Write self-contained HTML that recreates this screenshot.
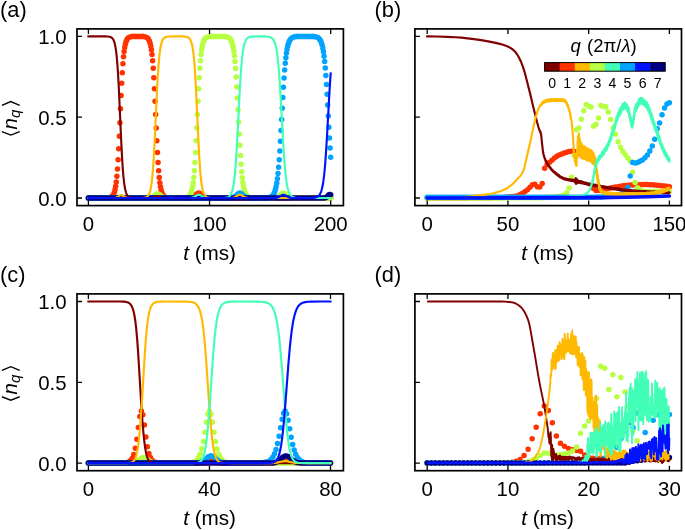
<!DOCTYPE html>
<html><head><meta charset="utf-8"><title>figure</title>
<style>html,body{margin:0;padding:0;background:#fff}svg{display:block}text{font-family:"Liberation Sans",sans-serif;fill:#000}</style>
</head><body>
<svg style="will-change:transform" width="685" height="530" viewBox="0 0 685 530">
<rect width="685" height="530" fill="#fff"/>
<clipPath id="ca"><rect x="77" y="28.9" width="266.4" height="176.7"/></clipPath>
<g clip-path="url(#ca)">
<path d="M88.4 198H105.36M105.97 197.95H106.57M107.18 197.9h0M107.78 197.86h0M108.39 197.8h0M109 197.72h0M109.6 197.6h0M110.21 197.44h0M110.81 197.21h0M111.42 196.88h0M112.02 196.42h0M112.63 195.78h0M113.24 194.89h0M113.84 193.64h0M114.45 191.92h0M115.05 189.54h0M115.66 186.31h0M116.26 181.98h0M116.87 176.27h0M117.48 168.93h0M118.08 159.79h0M118.69 148.85h0M119.29 136.33h0M119.9 122.76h0M120.5 108.87h0M121.11 95.46h0M121.72 83.23h0M122.32 72.63h0M122.93 63.86h0M123.53 56.86h0M124.14 51.45h0M124.75 47.36h0M125.35 44.32h0M125.96 42.09h0M126.56 40.47h0M127.17 39.31h0M127.77 38.47h0M128.38 37.87h0M128.99 37.45h0M129.59 37.14h0M130.2 36.93h0M130.8 36.77h0M131.41 36.66h0M132.01 36.59h0M132.62 36.53H133.23M133.83 36.47H135.04M135.65 36.43H141.1M141.71 36.47H142.31M142.92 36.54h0M143.52 36.59h0M144.13 36.67h0M144.73 36.77h0M145.34 36.92h0M145.95 37.13h0M146.55 37.41h0M147.16 37.81h0M147.76 38.36h0M148.37 39.12h0M148.98 40.17h0M149.58 41.62h0M150.19 43.59h0M150.79 46.26h0M151.4 49.84h0M152 54.56h0M152.61 60.67h0M153.22 68.37h0M153.82 77.78h0M154.43 88.83h0M155.03 101.25h0M155.64 114.51h0M156.24 127.91h0M156.85 140.74h0M157.46 152.39h0M158.06 162.48h0M158.67 170.85h0M159.27 177.58h0M159.88 182.82h0M160.48 186.83h0M161.09 189.83h0M161.7 192.06h0M162.3 193.7h0M162.91 194.9h0M163.51 195.76h0M164.12 196.39h0M164.72 196.84h0M165.33 197.17h0M165.94 197.4h0M166.54 197.57h0M167.15 197.69h0M167.75 197.78h0M168.36 197.84h0M168.96 197.89H169.57M170.18 197.94H171.99M172.6 197.98H189.56M190.17 197.9h0M190.77 197.83h0M191.38 197.73h0M191.98 197.57h0M192.59 197.34h0M193.19 197.04h0M193.8 196.65h0M194.41 196.18h0M195.01 195.64h0M195.62 195.06h0M196.22 194.48h0M196.83 193.95h0M197.44 193.52h0M198.04 193.25h0M198.65 193.15h0M199.25 193.25h0M199.86 193.52h0M200.46 193.95h0M201.07 194.48h0M201.68 195.06h0M202.28 195.64h0M202.89 196.18h0M203.49 196.65h0M204.1 197.04h0M204.7 197.34h0M205.31 197.57h0M205.92 197.73h0M206.52 197.83h0M207.13 197.9h0M207.73 197.95H208.94M209.55 197.99H330.7" fill="none" stroke="#ff3200" stroke-width="5.5" stroke-linecap="round"/>
<path d="M88.4 198H147.76M148.37 197.96H148.98M149.58 197.86h0M150.19 197.77h0M150.79 197.64h0M151.4 197.45h0M152 197.2h0M152.61 196.88h0M153.22 196.48h0M153.82 196.03h0M154.43 195.55h0M155.03 195.07h0M155.64 194.63h0M156.24 194.27h0M156.85 194.04h0M157.46 193.96h0M158.06 194.04h0M158.67 194.27h0M159.27 194.63h0M159.88 195.07h0M160.48 195.55h0M161.09 196.03h0M161.7 196.48h0M162.3 196.88h0M162.91 197.2h0M163.51 197.45h0M164.12 197.64h0M164.72 197.77h0M165.33 197.86h0M165.94 197.92H166.54M167.15 197.98H182.9M183.5 197.92H184.11M184.71 197.84h0M185.32 197.78h0M185.93 197.69h0M186.53 197.57h0M187.14 197.4h0M187.74 197.17h0M188.35 196.84h0M188.95 196.39h0M189.56 195.76h0M190.17 194.9h0M190.77 193.7h0M191.38 192.06h0M191.98 189.83h0M192.59 186.83h0M193.19 182.82h0M193.8 177.58h0M194.41 170.85h0M195.01 162.48h0M195.62 152.39h0M196.22 140.74h0M196.83 127.91h0M197.44 114.51h0M198.04 101.25h0M198.65 88.83h0M199.25 77.78h0M199.86 68.37h0M200.46 60.67h0M201.07 54.56h0M201.68 49.84h0M202.28 46.26h0M202.89 43.59h0M203.49 41.62h0M204.1 40.17h0M204.7 39.12h0M205.31 38.36h0M205.92 37.81h0M206.52 37.41h0M207.13 37.13h0M207.73 36.92h0M208.34 36.77h0M208.94 36.67h0M209.55 36.59h0M210.16 36.54H210.76M211.37 36.47H212.58M213.18 36.43H222.27M222.88 36.47H223.48M224.09 36.53h0M224.69 36.57h0M225.3 36.63h0M225.91 36.71h0M226.51 36.82h0M227.12 36.97h0M227.72 37.18h0M228.33 37.45h0M228.93 37.82h0M229.54 38.31h0M230.15 38.98h0M230.75 39.87h0M231.36 41.07h0M231.96 42.66h0M232.57 44.76h0M233.17 47.51h0M233.78 51.08h0M234.39 55.66h0M234.99 61.43h0M235.6 68.52h0M236.2 77.03h0M236.81 86.92h0M237.41 97.99h0M238.02 109.87h0M238.63 122.09h0M239.23 134.09h0M239.84 145.35h0M240.44 155.5h0M241.05 164.29h0M241.65 171.67h0M242.26 177.68h0M242.87 182.49h0M243.47 186.25h0M244.08 189.15h0M244.68 191.37h0M245.29 193.05h0M245.9 194.31h0M246.5 195.26h0M247.11 195.97h0M247.71 196.49h0M248.32 196.89h0M248.92 197.18h0M249.53 197.39h0M250.14 197.55h0M250.74 197.67h0M251.35 197.75h0M251.95 197.82h0M252.56 197.87H253.16M253.77 197.93H254.98M255.59 197.97H274.37M274.97 197.9h0M275.58 197.83h0M276.18 197.73h0M276.79 197.57h0M277.39 197.34h0M278 197.04h0M278.61 196.65h0M279.21 196.18h0M279.82 195.64h0M280.42 195.06h0M281.03 194.48h0M281.63 193.95h0M282.24 193.52h0M282.85 193.25h0M283.45 193.15h0M284.06 193.25h0M284.66 193.52h0M285.27 193.95h0M285.87 194.48h0M286.48 195.06h0M287.09 195.64h0M287.69 196.18h0M288.3 196.65h0M288.9 197.04h0M289.51 197.34h0M290.11 197.57h0M290.72 197.73h0M291.33 197.83h0M291.93 197.9h0M292.54 197.95H293.75M294.36 197.99H330.7" fill="none" stroke="#b6ff41" stroke-width="5.5" stroke-linecap="round"/>
<path d="M88.4 198H230.15M230.75 197.95h0M231.36 197.9h0M231.96 197.83h0M232.57 197.73h0M233.17 197.57h0M233.78 197.34h0M234.39 197.04h0M234.99 196.65h0M235.6 196.18h0M236.2 195.64h0M236.81 195.06h0M237.41 194.48h0M238.02 193.95h0M238.63 193.52h0M239.23 193.25h0M239.84 193.15h0M240.44 193.25h0M241.05 193.52h0M241.65 193.95h0M242.26 194.48h0M242.87 195.06h0M243.47 195.64h0M244.08 196.18h0M244.68 196.65h0M245.29 197.04h0M245.9 197.34h0M246.5 197.57h0M247.11 197.73h0M247.71 197.83h0M248.32 197.9h0M248.92 197.95H250.14M250.74 197.99H263.46M264.07 197.95H265.28M265.88 197.89H266.49M267.1 197.81h0M267.7 197.74h0M268.31 197.66h0M268.91 197.55h0M269.52 197.41h0M270.12 197.22h0M270.73 196.98h0M271.34 196.65h0M271.94 196.22h0M272.55 195.66h0M273.15 194.93h0M273.76 193.97h0M274.37 192.72h0M274.97 191.11h0M275.58 189.02h0M276.18 186.36h0M276.79 182.97h0M277.39 178.74h0M278 173.5h0M278.61 167.16h0M279.21 159.63h0M279.82 150.92h0M280.42 141.15h0M281.03 130.54h0M281.63 119.44h0M282.24 108.26h0M282.85 97.41h0M283.45 87.27h0M284.06 78.12h0M284.66 70.11h0M285.27 63.3h0M285.87 57.63h0M286.48 53.01h0M287.09 49.3h0M287.69 46.37h0M288.3 44.06h0M288.9 42.27h0M289.51 40.89h0M290.11 39.82h0M290.72 39.01h0M291.33 38.38h0M291.93 37.91h0M292.54 37.54h0M293.14 37.27h0M293.75 37.06h0M294.36 36.9h0M294.96 36.78h0M295.57 36.69h0M296.17 36.62h0M296.78 36.56H297.38M297.99 36.49H298.6M299.2 36.45H302.23M302.84 36.41H310.71M311.32 36.47H311.92M312.53 36.51H313.13M313.74 36.6h0M314.34 36.66h0M314.95 36.75h0M315.56 36.86h0M316.16 37.01h0M316.77 37.2h0M317.37 37.45h0M317.98 37.79h0M318.59 38.22h0M319.19 38.8h0M319.8 39.55h0M320.4 40.54h0M321.01 41.82h0M321.61 43.48h0M322.22 45.62h0M322.83 48.35h0M323.43 51.81h0M324.04 56.14h0M324.64 61.48h0M325.25 67.94h0M325.85 75.59h0M326.46 84.41h0M327.07 94.28h0M327.67 104.95h0M328.28 116.08h0M328.88 127.25h0M329.49 138.04h0M330.09 148.09h0M330.7 157.14h0" fill="none" stroke="#00a4ff" stroke-width="5.5" stroke-linecap="round"/>
<path d="M88.4 198H324.04M324.64 197.9h0M325.25 197.79h0M325.85 197.58h0M326.46 197.23h0M327.07 196.73h0M327.67 196.11h0M328.28 195.44h0M328.88 194.86h0M329.49 194.51H330.09M330.7 194.77h0" fill="none" stroke="#000080" stroke-width="5.5" stroke-linecap="round"/>
<path d="M88.4 36.4 105.36 36.44 107.78 36.54 109 36.68 110.21 36.96 110.81 37.19 111.42 37.52 112.02 37.98 112.63 38.62 113.24 39.51 113.84 40.76 114.45 42.48 115.05 44.86 115.66 48.09 116.26 52.42 116.87 58.13 117.48 65.47 118.08 74.61 118.69 85.55 119.9 111.64 121.11 138.94 121.72 151.17 122.32 161.77 122.93 170.54 123.53 177.54 124.14 182.95 124.75 187.04 125.35 190.08 125.96 192.31 126.56 193.93 127.17 195.09 127.77 195.93 128.38 196.53 128.99 196.95 129.59 197.26 130.8 197.63 132.62 197.87 136.25 197.98 150.19 197.98 152 197.85 153.22 197.58 154.43 197.11 156.24 196.29 156.85 196.12 157.46 196.06 158.06 196.12 158.67 196.29 161.09 197.37 162.3 197.74 163.51 197.91 165.94 198 330.7 198" fill="none" stroke="#800000" stroke-width="2.15" stroke-linejoin="round" stroke-linecap="square"/>
<path d="M88.4 198 113.84 197.97 115.05 197.87 116.26 197.61 116.87 197.37 117.48 197.06 119.9 195.43 120.5 195.18 121.11 195.09 121.72 195.18 122.32 195.43 123.53 196.24 124.75 197.06 125.35 197.37 125.96 197.61 127.17 197.87 128.99 197.99 140.49 197.96 142.92 197.86 144.73 197.63 145.95 197.27 146.55 196.99 147.16 196.59 147.76 196.04 148.37 195.28 148.98 194.23 149.58 192.78 150.19 190.81 150.79 188.14 151.4 184.56 152 179.84 152.61 173.73 153.22 166.03 153.82 156.62 154.43 145.57 156.85 93.66 157.46 82.01 158.06 71.92 158.67 63.55 159.27 56.82 159.88 51.58 160.48 47.57 161.09 44.57 161.7 42.34 162.3 40.7 162.91 39.5 163.51 38.64 164.12 38.01 164.72 37.56 165.33 37.23 165.94 37 167.15 36.71 168.96 36.51 173.21 36.41 182.29 36.44 184.71 36.56 185.93 36.71 187.14 37 187.74 37.23 188.35 37.56 188.95 38.01 189.56 38.64 190.17 39.5 190.77 40.7 191.38 42.34 191.98 44.57 192.59 47.57 193.19 51.58 193.8 56.82 194.41 63.55 195.01 71.92 195.62 82.01 196.83 106.49 198.65 145.57 199.25 156.62 199.86 166.03 200.46 173.73 201.07 179.84 201.68 184.56 202.28 188.14 202.89 190.81 203.49 192.78 204.1 194.23 204.7 195.28 205.31 196.04 205.92 196.59 206.52 196.99 207.13 197.27 208.34 197.63 210.16 197.86 213.79 197.98 230.15 197.98 231.96 197.89 233.17 197.71 234.39 197.36 235.6 196.79 238.02 195.3 238.63 195.02 239.23 194.83 239.84 194.77 240.44 194.83 241.05 195.02 241.65 195.3 244.08 196.79 245.29 197.36 246.5 197.71 247.71 197.89 250.14 197.99 330.7 198" fill="none" stroke="#ffb900" stroke-width="2.15" stroke-linejoin="round" stroke-linecap="square"/>
<path d="M88.4 198 188.95 197.98 190.77 197.89 191.98 197.71 193.19 197.36 194.41 196.79 196.83 195.3 197.44 195.02 198.04 194.83 198.65 194.77 199.25 194.83 199.86 195.02 200.46 195.3 202.89 196.79 204.1 197.36 205.31 197.71 206.52 197.89 208.94 197.99 221.67 197.96 224.69 197.83 226.51 197.58 227.72 197.22 228.33 196.95 228.93 196.58 229.54 196.09 230.15 195.42 230.75 194.53 231.36 193.33 231.96 191.74 232.57 189.64 233.17 186.89 233.78 183.32 234.39 178.74 234.99 172.97 235.6 165.88 236.2 157.37 236.81 147.48 238.02 124.53 239.84 89.05 240.44 78.9 241.05 70.11 241.65 62.73 242.26 56.72 242.87 51.91 243.47 48.15 244.08 45.25 244.68 43.03 245.29 41.35 245.9 40.09 246.5 39.14 247.11 38.43 247.71 37.91 248.32 37.51 248.92 37.22 250.14 36.85 251.95 36.58 254.98 36.44 263.46 36.44 266.49 36.55 268.31 36.74 269.52 36.99 270.73 37.42 271.34 37.75 271.94 38.18 272.55 38.74 273.15 39.47 273.76 40.43 274.37 41.68 274.97 43.29 275.58 45.38 276.18 48.04 276.79 51.43 277.39 55.66 278 60.9 278.61 67.24 279.21 74.77 279.82 83.48 281.03 103.86 282.85 136.99 283.45 147.13 284.06 156.28 284.66 164.29 285.27 171.1 285.87 176.77 286.48 181.39 287.09 185.1 287.69 188.03 288.3 190.34 288.9 192.13 289.51 193.51 290.11 194.58 290.72 195.39 291.33 196.02 291.93 196.49 292.54 196.86 293.14 197.13 294.36 197.5 296.17 197.78 299.2 197.95 313.13 198 330.7 198" fill="none" stroke="#41ffb6" stroke-width="2.15" stroke-linejoin="round" stroke-linecap="square"/>
<path d="M88.4 198 273.76 197.98 275.58 197.89 276.79 197.71 278 197.36 279.21 196.79 281.63 195.3 282.24 195.02 282.85 194.83 283.45 194.77 284.06 194.83 284.66 195.02 285.27 195.3 287.69 196.79 288.9 197.36 290.11 197.71 291.33 197.89 293.75 197.99 310.1 197.96 313.13 197.83 314.95 197.6 316.16 197.31 316.77 197.09 317.37 196.81 317.98 196.43 318.59 195.93 319.19 195.28 319.8 194.43 320.4 193.31 321.01 191.87 321.61 190 322.22 187.61 322.83 184.56 323.43 180.72 324.04 175.94 324.64 170.09 325.25 163.09 325.85 154.89 327.07 135.29 329.49 91.62 330.09 82.01 330.7 73.49" fill="none" stroke="#0012ff" stroke-width="2.15" stroke-linejoin="round" stroke-linecap="square"/>
</g>
<path d="M88.4 205.6v-5.0M88.4 28.9v5.0M209.55 205.6v-5.0M209.55 28.9v5.0M330.7 205.6v-5.0M330.7 28.9v5.0M77 198h5.0M77 117.2h5.0M77 36.4h5.0" stroke="#000" stroke-width="1.3" fill="none"/>
<rect x="77" y="28.9" width="266.4" height="176.7" fill="none" stroke="#000" stroke-width="1.7"/>
<text x="88.4" y="230.6" text-anchor="middle" font-size="20.4">0</text>
<text x="209.55" y="230.6" text-anchor="middle" font-size="20.4">100</text>
<text x="330.7" y="230.6" text-anchor="middle" font-size="20.4">200</text>
<text x="66.6" y="205.6" text-anchor="end" font-size="20.4">0.0</text>
<text x="66.6" y="124.8" text-anchor="end" font-size="20.4">0.5</text>
<text x="66.6" y="44" text-anchor="end" font-size="20.4">1.0</text>
<g transform="translate(17 118.35) rotate(-90)"><path d="M-13.35 -15.1L-16.75 -6.2L-13.35 2.7M12.95 -15.1L16.75 -6.2L12.95 2.7" fill="none" stroke="#000" stroke-width="1.4"/><text x="-11.2" y="0" font-size="20.4" font-style="italic">n</text><text x="0.3" y="3.1" font-size="15" font-style="italic">q</text></g>
<text x="209.6" y="260" text-anchor="middle" font-size="20.7"><tspan font-style="italic">t</tspan> (ms)</text>
<text x="0.1" y="16.9" font-size="21.8">(a)</text>
<clipPath id="cb"><rect x="414.9" y="28.9" width="266.6" height="176.7"/></clipPath>
<g clip-path="url(#cb)">
<path d="M427.2 198h0M429.65 198h0M432.09 198h0M434.54 198h0M436.99 197.99h0M439.43 197.99h0M441.88 197.98h0M444.33 197.98h0M446.77 197.97h0M449.22 197.96h0M451.66 197.96h0M454.11 197.95h0M456.56 197.93h0M459 197.92h0M461.45 197.91h0M463.9 197.89h0M466.34 197.88h0M468.79 197.86h0M471.24 197.84h0M473.68 197.82h0M476.13 197.8h0M478.58 197.78h0M481.02 197.75h0M483.47 197.73h0M485.92 197.7h0M488.36 197.67h0M490.81 197.64h0M493.25 197.61h0M495.7 197.58h0M498.15 197.54h0M500.59 197.5h0M503.04 197.42h0M505.49 197.28h0M507.93 197.08h0M510.38 196.83h0M512.83 196.53h0M515.27 196.18h0M517.72 195.63h0M520.17 194.57h0M522.61 193.14h0M525.06 191.49h0M527.51 189.78h0M529.95 187.23h0M532.4 184.66h0M534.84 184.22h0M537.29 186.71h0M539.74 186.91h0M542.18 183.52h0M544.63 168.16h0M547.08 164.25h0M549.52 162.36h0M551.97 160.2h0M554.42 158.07h0M556.86 156.33h0M559.31 155.04h0M561.76 153.97h0M564.2 153.08h0M566.65 152.31h0M569.09 151.57h0M571.54 151.15h0M573.99 151.48h0M576.43 152.41h0M578.88 153.27h0M581.33 154.16h0M583.77 155.15h0M586.22 156.3h0M588.67 157.6h0M591.11 159.06h0M593.56 188.38h0M596.01 190.6h0M598.45 190.6h0M600.9 190.09h0M603.35 189.44h0M605.79 188.92h0M608.24 188.43h0M610.68 187.95h0M613.13 187.48h0M615.58 187.04h0M618.02 186.64h0M620.47 186.26h0M622.92 185.87h0M625.36 185.52h0M627.81 185.25h0M630.26 185.07h0M632.7 184.95h0M635.15 184.84h0M637.6 184.75h0M640.04 184.68h0M642.49 184.62h0M644.94 184.59h0M647.38 184.59h0M649.83 184.68h0M652.27 184.84h0M654.72 185.05h0M657.17 185.3h0M659.61 185.55h0M662.06 185.79h0M664.51 186.06h0M666.95 186.36h0M669.4 186.69h0" fill="none" stroke="#ff3200" stroke-width="5.5" stroke-linecap="round"/>
<path d="M427.2 198h0M429.65 198h0M432.09 198h0M434.54 198h0M436.99 198h0M439.43 198h0M441.88 198h0M444.33 198h0M446.77 197.99h0M449.22 197.99h0M451.66 197.99h0M454.11 197.99h0M456.56 197.99h0M459 197.98h0M461.45 197.98h0M463.9 197.98h0M466.34 197.97h0M468.79 197.97h0M471.24 197.96h0M473.68 197.96h0M476.13 197.95h0M478.58 197.95h0M481.02 197.94h0M483.47 197.94h0M485.92 197.93h0M488.36 197.92h0M490.81 197.92h0M493.25 197.91h0M495.7 197.9h0M498.15 197.89h0M500.59 197.89h0M503.04 197.88h0M505.49 197.87h0M507.93 197.86h0M510.38 197.85h0M512.83 197.83h0M515.27 197.82h0M517.72 197.81h0M520.17 197.8h0M522.61 197.79h0M525.06 197.77h0M527.51 197.76h0M529.95 197.74h0M532.4 197.73h0M534.84 197.71h0M537.29 197.7h0M539.74 197.68h0M542.18 197.65h0M544.63 197.59h0M547.08 197.49h0M549.52 197.35h0M551.97 197.17h0M554.42 196.94h0M556.86 196.67h0M559.31 196.35h0M561.76 195.95h0M564.2 194.94h0M566.65 193.05h0M569.09 187.88h0M571.54 177.24h0M573.99 155.59h0M576.43 129.83h0M578.88 127.92h0M581.33 119.31h0M583.77 110.76h0M586.22 104.55h0M588.67 106.03h0M591.11 106.9h0M593.56 126.15h0M596.01 124.19h0M598.45 117.93h0M600.9 105.62h0M603.35 106.43h0M605.79 106.77h0M608.24 112.03h0M610.68 119.59h0M613.13 127.78h0M615.58 134.31h0M618.02 141.74h0M620.47 147.3h0M622.92 151.4h0M625.36 154.87h0M627.81 158.08h0M630.26 160.91h0M632.7 171.93h0M635.15 182.49h0M637.6 187.85h0M640.04 189.93h0M642.49 191.06h0M644.94 191.53h0M647.38 191.54h0M649.83 191.54h0M652.27 191.54h0M654.72 191.54h0M657.17 191.54h0M659.61 191.54h0M662.06 191.54h0M664.51 191.54h0M666.95 191.54h0M669.4 191.54h0" fill="none" stroke="#b6ff41" stroke-width="5.5" stroke-linecap="round"/>
<path d="M427.2 197.35h0M429.65 197.35h0M432.09 197.35h0M434.54 197.35h0M436.99 197.35h0M439.43 197.35h0M441.88 197.35h0M444.33 197.35h0M446.77 197.35h0M449.22 197.35h0M451.66 197.35h0M454.11 197.35h0M456.56 197.35h0M459 197.35h0M461.45 197.35h0M463.9 197.35h0M466.34 197.35h0M468.79 197.35h0M471.24 197.35h0M473.68 197.35h0M476.13 197.34h0M478.58 197.34h0M481.02 197.34h0M483.47 197.34h0M485.92 197.34h0M488.36 197.34h0M490.81 197.34h0M493.25 197.34h0M495.7 197.33h0M498.15 197.33h0M500.59 197.33h0M503.04 197.33h0M505.49 197.33h0M507.93 197.32h0M510.38 197.32h0M512.83 197.32h0M515.27 197.32h0M517.72 197.32h0M520.17 197.31h0M522.61 197.31h0M525.06 197.31h0M527.51 197.3h0M529.95 197.3h0M532.4 197.3h0M534.84 197.3h0M537.29 197.29h0M539.74 197.29h0M542.18 197.28h0M544.63 197.28h0M547.08 197.28h0M549.52 197.27h0M551.97 197.27h0M554.42 197.27h0M556.86 197.26h0M559.31 197.26h0M561.76 197.25h0M564.2 197.25h0M566.65 197.24h0M569.09 197.24h0M571.54 197.23h0M573.99 197.23h0M576.43 197.22h0M578.88 197.22h0M581.33 197.21h0M583.77 197.2h0M586.22 197.2h0M588.67 197.19h0M591.11 197.17h0M593.56 197.14h0M596.01 197.07h0M598.45 196.99h0M600.9 196.89h0M603.35 196.76h0M605.79 196.61h0M608.24 196.44h0M610.68 196.25h0M613.13 196.04h0M615.58 195.66h0M618.02 195.02h0M620.47 194.13h0M622.92 192.97h0M625.36 191.03h0M627.81 187.39h0M630.26 176.05h0M632.7 162.61h0M635.15 162.91h0M637.6 162.51h0M640.04 161.34h0M642.49 159.89h0M644.94 157.79h0M647.38 155.01h0M649.83 151.1h0M652.27 146.08h0M654.72 139.16h0M657.17 128.85h0M659.61 123.1h0M662.06 114.78h0M664.51 107.95h0M666.95 104.11h0M669.4 102.66h0" fill="none" stroke="#00a4ff" stroke-width="5.5" stroke-linecap="round"/>
<path d="M427.2 36.4 436.11 36.53 447.22 36.86 455.17 37.25 461.3 37.68 469.83 38.59 475.83 39.34 482.55 40.34 488.23 41.34 494.31 42.59 498.89 43.65 502.25 44.56 505.16 45.51 507.8 46.53 509.29 47.22 510.78 48.08 512.26 49.13 513.81 50.41 514.91 51.47 515.88 52.63 517.04 54.3 518.4 56.57 519.95 59.47 520.98 61.73 522.21 64.85 523.63 68.95 524.53 71.83 525.76 76.48 529.7 91.87 533.77 108.97 537.19 122.58 538.42 126.96 539.32 129.81 539.39 129.78 539.45 130.26 539.52 130.4 539.58 130.38 539.71 130.89 539.77 130.65 539.84 131.11 539.9 131.1 539.97 131.61 540.03 131.09 540.1 131.87 540.16 131.74 540.23 131.39 540.29 131.43 540.42 131.77 540.49 132.57 540.55 132.96 540.61 132.63 540.68 133.28 540.74 132.36 540.81 133.76 540.87 133.58 541 134.59 541.07 134.36 541.13 135.35 541.2 134.79 541.32 136.6 541.39 136.6 541.52 138.56 541.58 138.56 541.71 140.21 541.78 141.23 541.84 141.19 541.91 141.78 542.04 144.12 542.1 143.67 542.23 145.53 542.29 145.61 542.36 146.47 542.42 146.2 542.55 148.19 542.62 148.91 542.68 149.05 542.75 148.73 542.81 150.23 542.87 150.42 542.94 150.25 543 151.97 543.07 152.06 543.13 151.82 543.2 153.19 543.26 152.52 543.33 153.02 543.39 154.27 543.46 154.03 543.52 154.38 543.59 154.48 543.65 155.22 543.71 155.36 543.78 155.79 543.84 155.95 543.91 156.33 543.97 155.61 544.04 155.85 544.1 156.74 544.17 156.52 544.3 157.46 544.36 157.57 544.42 156.97 544.49 157.97 544.55 157.85 544.62 157.56 544.68 158.58 544.75 158.1 544.81 159.17 544.88 158.54 545.01 158.74 545.07 158.72 545.14 159.22 545.2 159.03 545.26 160.09 545.33 159.92 545.46 160.78 545.59 160.24 545.65 160.31 545.72 161.43 545.78 160.37 545.85 161.4 545.91 161.47 545.97 160.9 546.04 160.94 546.1 161.27 546.17 161.92 546.23 161.87 546.3 161.51 546.36 162.24 546.43 161.78 546.49 161.93 546.56 162.44 546.62 162 546.69 162.78 546.75 162.42 546.81 162.67 546.88 163.18 546.94 163.02 547.01 163.04 547.07 163.23 547.14 163.89 547.2 162.86 547.27 162.99 547.33 164.3 547.4 163.23 547.52 164.5 547.59 163.71 547.65 164.31 547.72 164.05 547.78 164.01 547.91 165.22 547.98 164.32 548.04 164.59 548.11 164.41 548.17 165.34 548.24 164.77 548.3 164.76 548.36 165.53 548.43 165.55 548.49 165.75 548.56 166.27 548.62 166.07 548.69 166.04 548.75 166.42 548.82 165.67 548.88 166.2 548.95 166.11 549.01 166.57 549.08 166.56 549.14 166.14 549.2 166.6 549.27 166.53 549.33 166.84 549.4 166.76 549.46 166.41 549.53 167.31 549.66 166.94 549.72 167.8 549.79 166.76 549.91 167.85 549.98 167.27 550.04 167.28 550.11 167.61 550.17 167.32 550.24 168.47 550.3 167.99 550.43 167.64 550.5 168.08 550.56 168.21 550.63 168.57 550.69 168.41 550.75 168.51 550.82 168.13 550.95 168.5 551.01 168.34 551.08 169.52 551.14 168.69 551.21 169.16 551.27 168.86 551.34 169.52 551.4 169.38 551.46 168.99 551.53 170.08 551.66 169.64 551.72 169.24 551.79 170.06 551.85 169.42 551.92 170.23 551.98 170.23 552.05 169.97 552.11 169.91 552.18 169.69 552.24 169.76 552.3 170.64 552.37 170.06 552.5 170.66 552.56 170.22 552.63 170.13 552.69 170.73 552.76 170.23 552.82 171.32 552.89 171.33 552.95 170.62 553.01 171.27 553.08 170.98 553.14 171.15 553.21 171.67 553.27 170.94 553.34 171.02 553.4 171.85 553.47 171.76 553.53 171.12 553.6 171.04 553.66 171.15 553.73 171.68 553.79 171.92 553.85 171.87 553.92 172.28 553.98 171.92 554.05 172.32 554.11 172.47 554.18 172.24 554.24 172.7 554.31 172.23 554.37 172 554.44 172.11 554.5 171.75 554.56 171.92 554.63 172.3 554.69 172.01 554.76 172.65 554.82 172.24 554.89 172.96 554.95 172.7 555.02 172.17 555.08 172.72 555.15 172.89 555.21 172.58 555.28 173.25 555.34 172.63 555.4 173.74 555.47 173.5 555.53 173.64 555.6 173.59 555.66 172.75 555.73 173.99 555.86 173.39 555.92 173.27 555.99 173.23 556.05 173.79 556.11 174.05 556.18 173.29 556.24 174.28 556.31 174.41 556.44 173.96 556.5 173.43 556.63 174.02 556.7 174.13 556.76 173.96 556.83 174.09 556.95 174.88 557.02 174.8 557.08 174.09 557.15 174.33 557.21 174.17 557.28 175.2 557.34 174.14 557.41 174.86 557.47 174.21 557.54 174.68 557.6 174.79 557.67 174.49 557.73 174.79 557.79 174.78 557.86 175.49 557.92 174.96 558.05 175.74 558.12 175.72 558.18 175.32 558.25 175.64 558.31 175.04 558.38 175.92 558.44 176.11 558.5 174.88 558.57 175.81 558.63 175.61 558.7 176.04 558.76 176.09 558.83 175.88 558.89 175.43 558.96 176.44 559.02 175.46 559.09 175.3 559.15 175.91 559.28 176.42 559.34 176.53 559.41 176.39 559.47 175.75 559.54 176.89 559.6 175.92 559.67 176.12 559.73 177 559.8 176.98 559.86 176.16 559.93 176.28 559.99 176.79 560.05 176.12 560.12 177.01 560.18 176.77 560.25 177.21 560.31 176.57 560.38 177.33 560.44 177.25 560.51 176.53 560.57 176.92 560.64 176.75 560.7 176.7 560.77 176.9 560.83 177.47 560.89 176.86 560.96 177.65 561.09 177.3 561.15 177.77 561.22 177.82 561.28 177.15 561.35 177.07 561.41 177.59 561.48 177.6 561.54 177.87 561.6 177.5 561.67 177.46 561.73 177.04 561.8 178.23 561.86 177.14 561.93 177.07 561.99 177.94 562.06 177.48 562.12 177.39 562.19 177.65 562.25 178.15 562.38 177.45 562.44 178.48 562.51 178.03 562.57 178.66 562.64 177.62 562.7 177.74 562.77 178.72 562.83 177.85 562.9 177.95 562.96 178.71 563.03 178.22 563.09 178.04 563.15 178.53 563.22 178.34 563.28 177.76 563.35 178.22 563.41 178.43 563.48 179.02 563.54 178.97 563.61 178.06 563.67 178.22 563.74 178.13 563.8 178.49 563.87 178.52 563.93 178.6 563.99 178.36 564.06 178.91 564.12 178.72 564.19 178.78 564.25 178.56 564.32 179.16 564.38 179.43 564.51 179.27 564.58 178.42 564.64 178.62 564.71 178.6 564.83 179.48 564.96 178.54 565.03 179.01 565.09 178.88 565.22 179.54 565.29 178.94 565.48 179.47 565.54 178.92 565.61 179.43 565.67 179.11 565.74 179.54 565.8 178.92 565.87 179.42 565.93 179.3 566 178.74 566.06 179.03 566.13 179.02 566.19 179.55 566.26 178.92 566.32 179.52 566.38 178.76 566.45 178.89 566.51 179.21 566.58 179.01 566.64 179.39 566.71 179.16 566.77 179.96 566.84 178.86 566.9 179.12 566.97 179.99 567.03 179.87 567.16 179.23 567.22 180.03 567.29 179 567.35 179.81 567.42 178.98 567.55 179.67 567.61 179.84 567.68 180.19 567.74 180.22 567.81 179.53 567.93 179.2 568 179.91 568.06 179.18 568.13 180.02 568.19 179.2 568.26 179.24 568.32 180.24 568.39 179.34 568.45 179.56 568.52 179.57 568.58 179.4 568.64 179.81 568.71 179.86 568.77 180.05 568.84 179.42 568.9 179.38 568.97 180.35 569.03 179.57 569.1 180.23 569.16 180.36 569.23 180.35 569.29 179.87 569.36 180.26 569.42 180.32 569.48 180.52 569.55 180.24 569.61 179.67 569.68 180.65 569.74 180.06 569.81 179.92 569.87 180.65 569.94 180.34 570 179.56 570.07 179.45 570.13 179.65 570.19 180.54 570.26 179.78 570.39 180.57 570.52 179.62 570.58 179.69 570.71 180.76 570.78 179.69 570.84 179.58 570.97 180.59 571.03 180.19 571.1 180 571.23 180.46 571.29 180.61 571.36 180.55 571.42 180.88 571.49 180.63 571.55 179.73 571.62 180.97 571.68 180.05 571.74 179.98 571.81 180.48 571.87 180.25 571.94 180.74 572 180.17 572.13 180.1 572.2 180.43 572.26 179.82 572.33 179.96 572.39 180.35 572.46 180.22 572.52 180.76 572.58 179.9 572.65 180.3 572.71 179.99 572.78 180.78 572.84 179.89 572.91 181.04 572.97 180.5 573.04 181.05 573.1 180.96 573.17 180.23 573.23 181.14 573.3 180.74 573.36 181 573.42 180.16 573.49 181.16 573.55 180.84 573.62 180.18 573.68 180.41 573.75 180.4 573.81 180.04 573.88 181.3 573.94 180.48 574.01 180.39 574.07 180.39 574.13 180.45 574.2 181.3 574.26 181.31 574.33 180.37 574.39 180.6 574.52 181.69 574.59 180.74 574.65 181.72 574.72 180.23 574.78 181.26 574.85 179.97 574.91 182.12 574.97 180.9 575.04 182.34 575.1 179.82 575.23 182.09 575.3 178.79 575.43 181.8 575.49 179.08 575.56 181.66 575.62 178.46 575.68 182.22 575.75 178.09 575.81 183.76 575.88 179.58 575.94 182.41 576.07 180.22 576.14 184.04 576.2 182.9 576.27 183.66 576.33 179.65 576.4 182.89 576.46 181.19 576.52 182.21 576.59 182.74 576.65 178.78 576.72 181.2 576.78 180.46 576.85 180.23 576.91 179.72 576.98 182.41 577.04 183.2 577.11 181.47 577.17 182.68 577.23 183.2 577.3 179.85 577.49 182.53 577.56 180.68 577.69 182.3 577.75 180.31 577.88 180.58 577.95 180.84 578.07 181.95 578.14 181.28 578.2 182.26 578.27 181.38 578.33 182.46 578.4 182.57 578.46 181.23 578.53 181.97 578.59 181.3 578.72 181.06 578.78 181.5 578.85 181.08 578.91 181.45 578.98 180.95 579.04 181.03 579.11 182.68 579.24 182.05 579.37 182.49 579.43 181.17 579.5 182.81 579.56 182.53 579.62 181.44 579.69 182.48 579.75 182.43 579.82 181.09 580.01 182.73 580.08 182.49 580.14 181.15 580.21 181.53 580.27 182.92 580.33 181.72 580.4 182.37 580.46 181.73 580.53 182.55 580.66 183.11 580.72 182.6 580.79 181.55 580.85 181.51 580.92 181.92 580.98 181.82 581.05 182.87 581.11 182.59 581.17 181.58 581.24 181.44 581.3 182.47 581.37 181.87 581.43 181.59 581.5 181.49 581.56 182.82 581.63 182.16 581.69 182.67 581.76 182.55 581.82 182.57 581.95 183.43 582.01 182.06 582.08 182.2 582.14 181.95 582.21 183.25 582.27 183.11 582.4 181.84 582.53 183.24 582.66 181.87 582.72 182.06 582.79 182.02 582.85 182.94 582.92 183.23 582.98 182.12 583.05 182.29 583.11 182.19 583.18 183.06 583.24 183.27 583.31 183.37 583.37 182.23 583.44 182.15 583.5 183.18 583.56 182.27 583.63 183.19 583.76 182.89 583.82 183.54 583.89 183.47 584.02 183.51 584.08 183.06 584.15 183.84 584.21 182.62 584.27 183.74 584.4 182.92 584.47 183.85 584.6 183.11 584.66 183.15 584.73 182.55 584.79 182.76 584.86 183.98 584.92 182.71 584.99 183.24 585.05 183.02 585.11 183.97 585.24 183.03 585.31 182.87 585.37 182.87 585.44 183.95 585.5 182.86 585.57 183.35 585.7 182.88 585.76 183.69 585.82 182.79 585.95 183.02 586.02 183.8 586.08 183.55 586.15 184.2 586.21 183.17 586.28 182.95 586.34 184.27 586.41 183.25 586.47 183.35 586.54 184.54 586.6 182.99 586.66 183.78 586.79 184.61 586.86 183.29 586.92 184.1 586.99 183.8 587.05 184.38 587.12 183.67 587.18 184.05 587.25 183.35 587.31 183.61 587.37 183.53 587.44 184.37 587.5 184.72 587.57 183.29 587.63 183.21 587.7 183.74 587.76 183.27 587.83 183.66 587.96 184.2 588.02 184.32 588.09 184.1 588.15 184.59 588.21 184.24 588.28 184.12 588.34 184.96 588.41 184.34 588.47 184.55 588.54 183.95 588.6 183.66 588.67 184.02 588.73 183.94 588.8 184.05 588.86 184.68 588.93 184.49 588.99 183.69 589.05 183.53 589.12 184.87 589.18 185.18 589.25 183.54 589.31 183.73 589.38 184.18 589.44 183.84 589.51 184.24 589.57 183.71 589.64 184.87 589.76 184.16 589.83 184.96 589.89 184.11 589.96 184.9 590.02 184.14 590.09 184 590.15 184.66 590.22 183.7 590.28 184.33 590.35 184.13 590.41 185.41 590.48 185.26 590.54 184.25 590.6 183.87 590.67 184.42 590.73 183.95 590.8 185.42 590.86 184.01 590.93 184.05 591.06 184.84 591.12 184.38 591.19 185.18 591.25 184.47 591.31 184.44 591.44 185.21 591.51 185.66 591.57 185.34 591.64 184.27 591.7 185.34 591.77 185.59 591.9 184.86 591.96 184.76 592.03 184.28 592.09 184.33 592.15 184.15 592.22 184.31 592.35 185.59 592.41 184.22 592.48 185.46 592.54 184.81 592.61 185.43 592.67 184.51 592.74 185.56 592.8 185.2 592.86 185.56 592.93 184.49 592.99 184.91 593.06 184.9 593.12 185.45 593.19 185.69 593.25 184.56 593.32 184.73 593.38 184.79 593.45 184.37 593.58 185.76 593.64 185.05 593.7 185.6 593.77 185.24 593.83 185.34 593.9 185.18 593.96 184.6 594.03 184.8 594.09 185.47 594.16 184.81 594.22 184.75 594.29 184.91 594.35 185.29 594.41 184.73 594.54 186.07 594.61 185.8 594.67 185.18 594.74 185.65 594.8 185.59 594.87 185.64 594.93 186 595.06 186.26 595.13 185.24 595.19 185.83 595.25 185.62 595.32 184.85 595.38 185.37 595.45 185.08 595.51 185.17 595.58 184.87 595.64 186.34 595.77 184.91 595.84 185.72 595.9 184.94 595.96 186.2 596.03 186.42 596.09 185.06 596.16 185.87 596.22 185.72 596.29 185.04 596.35 186.22 596.42 185.01 596.48 185.95 596.55 186.21 596.61 186.24 596.68 185.79 596.74 185.89 596.8 185.22 596.87 186.59 596.93 186.61 597 186.44 597.06 185.72 597.13 185.45 597.19 185.95 597.26 185.74 597.32 185.71 597.39 186.73 597.45 186.37 597.52 185.17 597.58 186.26 597.64 185.28 597.77 186.47 597.84 186.84 597.9 186.5 598.03 186.17 598.1 186.17 598.16 186.02 598.23 186.15 598.29 186.87 598.35 186.5 598.42 185.4 598.48 186.91 598.55 185.79 598.61 186.22 598.68 185.86 598.74 186.47 598.81 186.42 598.87 186.2 598.94 185.58 599 186.52 599.07 186.92 599.13 187.01 599.19 185.67 599.26 186.59 599.32 186.91 599.39 186.16 599.45 185.78 599.58 186.91 599.65 186.51 599.78 187.15 599.84 185.66 599.97 187 600.03 185.82 600.1 185.68 600.16 185.95 600.23 186.86 600.29 186.97 600.36 186.45 600.42 186.37 600.49 185.91 600.55 185.79 600.62 185.89 600.68 186.79 600.74 186.42 600.81 187.16 600.87 186.55 600.94 187.27 601 187.21 601.07 187.21 601.13 186.94 601.2 186.93 601.26 186.32 601.33 187.32 601.39 187.28 601.45 186.44 601.65 186.37 601.78 186.65 601.84 186.37 601.91 187.41 601.97 187.22 602.04 186.4 602.1 187.27 602.17 186.75 602.23 187.19 602.29 186.93 602.36 186.31 602.55 187.22 602.62 186.4 602.75 186.99 602.81 186.34 602.88 186.62 602.94 186.19 603 186.69 603.07 186.33 603.13 186.89 603.26 186.46 603.33 187.63 603.39 187.05 603.46 186.86 603.52 187.71 603.59 186.59 603.65 186.72 603.72 186.39 603.78 187.27 603.84 187.13 603.91 186.46 603.97 187.24 604.04 186.6 604.1 187.25 604.3 187.6 604.36 187.27 604.43 187.7 604.49 186.69 604.55 186.47 604.62 187.83 604.75 187.99 604.81 186.58 604.88 187.9 604.94 186.99 605.01 187.57 605.07 187.74 605.14 187.68 605.2 187.01 605.27 188.05 605.33 186.77 605.46 187.75 605.52 187.8 605.59 187.13 605.65 187.18 605.72 187.66 605.78 187.65 605.85 187.46 605.91 186.79 605.98 187.37 606.04 186.92 606.11 187.23 606.23 187.48 606.3 187.2 606.36 187.5 606.43 187.16 606.49 187.99 606.56 187.79 606.62 186.96 606.69 187.7 606.75 187.03 606.82 186.9 606.94 188.18 607.01 187.2 607.07 187.35 607.14 187.92 607.2 187.07 607.33 188.3 607.4 188.3 607.46 188.07 607.59 187.2 607.66 188.29 607.72 188.41 607.78 187.52 607.85 187.85 607.91 187.81 607.98 187.26 608.04 187.12 608.11 187.06 608.17 187.35 608.24 188.52 608.3 188.31 608.43 187.12 608.49 188.44 608.56 187.8 608.62 187.99 608.69 187.98 608.75 188.2 608.82 188.2 608.88 188.26 608.95 188.47 609.01 187.81 609.08 187.98 609.14 187.59 609.21 187.71 609.27 187.26 609.33 188.18 609.4 187.38 609.46 188.13 609.53 187.73 609.59 187.53 609.66 188.14 609.72 188.08 609.79 187.81 609.85 188.59 609.92 187.98 609.98 188.64 610.04 188.45 610.17 187.37 610.24 187.34 610.3 188.44 610.37 188.62 610.43 188.08 610.56 188.3 610.63 187.74 610.69 187.84 610.76 188.06 610.82 187.99 610.88 188.05 610.95 187.92 611.01 187.56 611.14 187.51 611.21 187.69 611.27 188.81 611.4 187.84 611.47 188.56 611.53 188.11 611.59 188.93 611.72 188.45 611.79 188.94 611.85 188.43 611.92 188.72 611.98 187.81 612.05 188.61 612.11 188.53 612.18 187.93 612.24 188.29 612.31 189.05 612.37 188.81 612.43 188.25 612.5 188.86 612.56 188.79 612.63 188.26 612.76 188.79 612.82 188.38 612.89 188.28 612.95 189.16 613.02 188.82 613.08 188.78 613.15 187.97 613.21 189.18 613.27 188.76 613.34 188.99 613.4 188.27 613.47 188.11 613.53 189.22 613.6 188.06 613.66 188.31 613.73 189.01 613.79 188.01 613.86 188.92 613.92 188.21 613.98 189.26 614.05 188.72 614.11 188.65 614.18 188.1 614.24 188.19 614.37 189.35 614.44 188.81 614.5 188.9 614.57 188.02 614.7 188.89 614.76 188.95 614.82 188.38 614.89 189.36 614.95 188.33 615.08 188.9 615.15 188.51 615.28 189.35 615.34 188.96 615.41 189.5 615.47 189.46 615.6 188.42 615.66 189.32 615.79 188.23 615.86 188.45 615.92 188.36 615.99 188.69 616.05 188.82 616.18 188.83 616.44 189.63 616.57 188.64 616.7 189.53 616.76 188.61 616.83 189.72 616.89 188.46 616.96 188.87 617.08 189.23 617.15 188.65 617.21 189.82 617.28 189.82 617.34 189.11 617.41 189.44 617.54 189.12 617.6 189.83 617.67 188.5 617.8 189.78 617.86 188.88 617.92 189.18 617.99 188.97 618.05 188.91 618.12 188.56 618.18 189.8 618.25 188.57 618.38 189.71 618.44 189.48 618.51 189.5 618.57 188.76 618.7 189.95 618.76 189.04 618.83 189.36 618.89 188.92 618.96 190.01 619.02 188.87 619.09 188.84 619.15 190.1 619.22 189.44 619.28 189.95 619.35 189.39 619.41 190.02 619.47 188.9 619.54 189.9 619.6 189.23 619.67 189.26 619.73 189.74 619.8 189.9 619.86 188.92 619.93 190.16 619.99 189.87 620.06 189.77 620.12 189.42 620.25 190.1 620.31 189.47 620.38 189.26 620.44 189.3 620.64 190.3 620.7 189.58 620.77 189.45 620.83 189.72 620.9 189.01 620.96 190.07 621.02 189.23 621.09 189.37 621.15 189.13 621.22 189.1 621.28 190.07 621.35 189.12 621.41 189.85 621.54 189.11 621.61 189.61 621.67 189.64 621.74 190.36 621.8 189.64 621.86 190.14 621.93 189.94 621.99 189.97 622.06 189.15 622.12 189.62 622.19 189.51 622.25 190.29 622.32 190.11 622.38 189.33 622.45 190.39 622.51 189.24 622.57 189.98 622.64 190.04 622.7 189.87 622.77 189.98 622.83 189.95 622.9 190.02 622.96 189.65 623.03 190.25 623.09 190.41 623.16 190.04 623.22 190.53 623.29 190.04 623.35 189.99 623.41 189.59 623.48 190.54 623.61 189.62 623.67 190.24 623.74 189.56 623.8 189.74 623.87 190.68 624 189.69 624.06 190.03 624.12 189.84 624.19 189.41 624.25 189.85 624.32 190.04 624.38 189.63 624.51 190.8 624.71 189.54 624.84 190.47 624.9 189.5 624.96 190.32 625.03 190.57 625.09 190.13 625.22 190.75 625.29 189.93 625.35 189.97 625.42 189.59 625.48 190.75 625.55 189.69 625.61 189.86 625.67 190.61 625.8 190.11 625.93 190.84 626 189.85 626.06 190.78 626.13 190.34 626.19 190.42 626.26 189.79 626.32 190.27 626.39 190.46 626.45 189.71 626.51 190.57 626.58 190.07 626.64 190.75 626.71 190.04 626.77 190.06 626.84 189.96 626.97 190.8 627.1 189.88 627.16 190.71 627.22 191.11 627.29 190.89 627.35 189.88 627.42 191.15 627.55 191.04 627.61 189.97 627.68 190.67 627.74 190.25 627.81 190.24 627.87 190.62 627.94 190.22 628 190.6 628.06 190.49 628.19 191.24 628.26 190.44 628.32 190.9 628.39 190.89 628.45 190.08 628.52 190.79 628.58 191.15 628.65 190.44 628.71 190.57 628.77 191.23 628.9 190.49 628.97 190.95 629.03 190 629.16 190.66 629.23 190.11 629.29 191.31 629.36 191.06 629.42 190.13 629.55 191.15 629.61 190.62 629.68 190.41 629.74 190.59 629.81 191.35 629.87 191.37 629.94 190.87 630 191.41 630.07 191.32 630.13 190.57 630.26 191.34 630.33 190.28 630.39 190.97 630.45 190.28 630.52 190.66 630.58 190.65 630.65 190.92 630.71 190.59 630.78 191.18 630.84 191.16 630.91 190.34 630.97 191.25 631.04 191.01 631.1 190.53 631.16 191.1 631.23 191.05 631.29 190.33 631.36 191.28 631.42 191.24 631.49 190.38 631.55 191.21 631.62 191.14 631.68 190.4 631.75 191.16 631.81 190.26 631.88 190.5 631.94 190.47 632 191.31 632.07 191.33 632.13 190.62 632.2 190.52 632.26 191.34 632.33 191.37 632.39 191.32 632.46 191.47 632.52 191.09 632.65 190.83 632.71 191.6 632.78 191.42 632.84 191.53 632.91 191.33 632.97 191.45 633.04 190.45 633.1 191.21 633.17 191.53 633.3 190.42 633.43 190.86 633.49 191.23 633.55 191.2 633.62 191.34 633.68 190.67 633.75 190.68 633.81 191.11 633.88 190.61 633.94 190.9 634.01 190.86 634.07 191.42 634.2 191.49 634.26 190.58 634.33 190.73 634.39 190.6 634.46 190.71 634.52 190.74 634.59 191.24 634.65 190.8 634.72 191.6 634.78 190.96 634.85 191.78 634.91 190.55 634.98 190.67 635.04 191.63 635.1 190.83 635.17 190.76 635.23 191.81 635.3 191.11 635.36 191.31 635.49 190.7 635.56 190.92 635.62 191.61 635.69 191.15 635.75 191.15 635.81 191.88 635.94 191.43 636.01 191.67 636.07 191.6 636.2 190.65 636.27 191.32 636.4 190.92 636.46 191.05 636.53 191.07 636.59 191.95 636.65 190.8 636.72 191.74 636.78 191.72 636.85 191.29 636.91 191.19 636.98 190.97 637.04 191.59 637.11 190.73 637.17 191.15 637.24 190.87 637.37 191.9 637.43 191.99 637.49 191.16 637.56 191.45 637.62 191.43 637.75 191.79 637.82 191.4 637.88 191.69 637.95 190.85 638.01 191.8 638.08 190.76 638.14 190.91 638.2 191.54 638.27 191.03 638.4 191.45 638.46 190.99 638.53 190.97 638.59 191.81 638.66 190.88 638.72 192.04 638.79 192.08 638.85 191.45 638.92 191.7 638.98 191.54 639.04 191.47 639.11 191.49 639.17 190.91 639.24 190.9 639.3 191.66 639.37 191.74 639.43 191.26 639.5 191.87 639.63 191.19 639.69 192.14 639.75 191.13 639.82 191.18 639.88 191.65 639.95 191.83 640.01 191.45 640.08 191.78 640.14 191.09 640.27 191.78 640.34 191.12 640.4 191.39 640.47 192.02 640.53 191.65 640.59 191.56 640.66 190.96 640.72 191.79 640.79 191.62 640.85 190.93 640.92 191.66 640.98 191.14 641.05 192.1 641.11 191.71 641.18 191.99 641.24 191.08 641.37 191.96 641.43 192.13 641.5 191.7 641.56 192.13 641.69 191.31 641.76 191.86 641.82 192.06 641.89 191.8 641.95 192.07 642.02 191.18 642.08 192.17 642.14 191.32 642.21 191.86 642.27 191.35 642.34 191.3 642.4 192.13 642.47 191.32 642.53 191.08 642.6 191.58 642.66 191.48 642.73 191.91 642.79 192.11 642.85 191.36 642.92 191.27 642.98 192.08 643.05 192.2 643.18 191.54 643.24 191.88 643.31 191.1 643.37 191.33 643.44 191.17 643.5 191.59 643.63 191.14 643.69 192.34 643.76 191.64 643.82 192.15 643.89 191.36 643.95 192.1 644.02 191.44 644.08 191.98 644.15 191.56 644.21 191.53 644.28 191.23 644.34 191.29 644.4 191.86 644.47 191.53 644.53 192.2 644.6 192.31 644.66 191.51 644.73 191.26 644.86 191.78 644.99 191.51 645.12 192 645.18 191.36 645.24 192 645.31 191.3 645.37 191.44 645.44 191.46 645.5 191.41 645.57 191.21 645.63 191.21 645.7 191.85 645.76 192.02 645.89 191.25 646.02 192.49 646.08 192.48 646.21 191.51 646.28 191.38 646.34 192.05 646.41 191.87 646.47 191.88 646.54 192.43 646.6 192.56 646.67 191.88 646.73 191.91 646.79 191.44 646.86 192.34 646.92 191.46 646.99 192.23 647.12 191.67 647.18 192.4 647.25 191.36 647.38 191.34 647.44 192.6 647.51 191.77 647.57 191.74 647.63 191.47 647.7 192.36 647.76 192.46 647.83 191.57 647.89 192.29 647.96 192.55 648.02 192.52 648.09 191.8 648.15 191.95 648.22 191.67 648.28 191.6 648.34 192.65 648.41 191.44 648.47 191.52 648.54 191.45 648.6 191.67 648.67 192.17 648.73 192.35 648.8 191.49 648.86 192.14 648.93 192.05 648.99 191.78 649.12 191.79 649.25 192.04 649.31 191.71 649.38 192.2 649.44 192.37 649.51 191.53 649.64 191.79 649.7 192.51 649.77 192.67 649.83 191.53 649.89 191.51 649.96 192.39 650.02 191.93 650.09 192.72 650.22 191.84 650.28 192.29 650.35 191.71 650.41 191.58 650.48 192.59 650.54 191.88 650.67 192.55 650.8 192.16 650.86 191.62 650.93 191.8 650.99 192.79 651.06 192.72 651.12 191.51 651.19 192.08 651.25 192.01 651.32 192.35 651.38 191.73 651.44 192.09 651.51 192.05 651.57 192.5 651.64 191.82 651.7 192.55 651.77 192.65 651.83 192.06 651.9 191.76 651.96 192.46 652.03 192.45 652.09 192.65 652.16 192.07 652.22 191.85 652.28 192.69 652.35 192.17 652.41 192.16 652.48 192.73 652.54 192.18 652.61 192.52 652.67 192.62 652.74 191.6 652.8 192.77 652.93 192.09 653.06 192.87 653.12 191.77 653.19 192.59 653.25 192.37 653.32 191.73 653.38 191.65 653.45 191.73 653.51 192.38 653.58 191.95 653.64 191.82 653.71 192.67 653.77 191.67 653.83 192.8 653.9 192.08 653.96 192.63 654.03 192.66 654.09 192.76 654.16 191.72 654.22 192.78 654.29 191.77 654.35 192.74 654.42 192.53 654.48 192.68 654.55 191.68 654.61 192.84 654.67 191.85 654.74 192.58 654.8 191.74 654.87 192 654.93 192.64 655 192.32 655.06 192.77 655.13 192.46 655.19 192.95 655.26 192.11 655.32 192.23 655.45 192.98 655.51 191.79 655.58 192.84 655.64 192.58 655.71 192.98 655.77 192.52 655.84 192.49 655.9 192.33 655.97 192.6 656.03 192.7 656.1 192.01 656.16 192.67 656.22 192.6 656.29 192.4 656.35 192.68 656.42 192.1 656.48 192.93 656.55 192.63 656.61 192.5 656.68 192.71 656.74 191.96 656.81 192.6 656.93 192.45 657 191.99 657.06 192.78 657.13 191.99 657.19 191.84 657.26 192.73 657.32 192.85 657.39 192.05 657.45 192.67 657.58 192.98 657.71 191.87 657.77 191.95 657.84 192.33 657.9 192.53 657.97 191.83 658.03 192.24 658.1 191.86 658.16 192.21 658.29 192.2 658.36 192.95 658.42 192.79 658.48 193.03 658.55 191.91 658.61 191.83 658.74 192.92 658.81 192.96 658.87 192.55 658.94 192.62 659.07 193.02 659.13 192.3 659.2 192.11 659.26 193.06 659.32 192.74 659.39 192.76 659.45 192.45 659.52 192.37 659.58 192.62 659.65 192.03 659.71 192.65 659.78 192.76 659.84 192.17 659.97 192.03 660.03 192.95 660.1 192.91 660.23 191.92 660.29 192.37 660.36 192.37 660.42 192.75 660.49 191.9 660.55 192.94 660.62 192.46 660.75 192.14 660.81 192.13 660.87 192.69 660.94 192.84 661 191.93 661.13 192.83 661.2 193.02 661.26 192.16 661.33 192.1 661.46 192.71 661.59 191.94 661.65 192.46 661.71 192.19 661.78 192.07 661.84 192.24 661.97 192.99 662.04 192.32 662.17 191.98 662.23 193.03 662.3 193.08 662.36 192.4 662.42 192.16 662.49 193.13 662.55 192.44 662.62 192.89 662.68 191.94 662.75 192.77 662.81 193.13 662.88 192.23 662.94 192.85 663.01 192.7 663.07 193.07 663.14 192.82 663.2 193.07 663.26 192.91 663.33 192.5 663.39 192.86 663.52 192.09 663.65 193.22 663.72 192.02 663.78 193 663.91 192.58 663.97 192.46 664.04 192.82 664.17 192.45 664.3 192.9 664.36 192.74 664.43 192.77 664.49 192.89 664.56 192.5 664.69 192.74 664.75 192.36 664.81 192.23 664.94 192.84 665.01 192.07 665.07 193.15 665.14 192.24 665.2 192.74 665.27 192.77 665.33 192.19 665.4 192.44 665.46 192.03 665.52 192.15 665.59 193.14 665.72 192.3 665.78 193.18 665.91 192.01 665.98 192.98 666.04 193.14 666.11 192.92 666.17 192.85 666.24 192.93 666.3 192.74 666.36 192.22 666.43 192.63 666.49 192.54 666.56 193.16 666.62 193.22 666.69 192.07 666.75 192.85 666.82 192.08 666.88 192.87 666.95 192.48 667.01 192.45 667.07 193.19 667.14 193.21 667.2 192.73 667.27 193.14 667.33 192.92 667.4 193.05 667.53 192.72 667.59 192.91 667.66 192.87 667.79 192.43 667.85 193.25 667.91 192.02 667.98 192.75 668.04 192.12 668.11 193.3 668.24 193.18 668.3 192.13 668.37 192.78 668.43 192.22 668.5 192.41 668.56 193.2 668.62 192.84 668.69 192.88 668.75 192.73 668.82 192.34 668.88 193.21 668.95 192.12 669.01 192.7 669.08 192.84 669.14 192.41 669.21 192.96 669.27 192.39 669.34 192.78 669.4 192.7" fill="none" stroke="#800000" stroke-width="2.15" stroke-linejoin="round" stroke-linecap="square"/>
<path d="M427.2 198 448.45 197.98 452.91 197.79 462.53 197.12 468.99 196.49 485.01 194.68 489.53 194.03 492.5 193.49 494.89 192.85 500.38 191.27 502.25 190.59 504.25 189.68 506.51 188.47 508.32 187.36 510.26 185.97 512.2 184.39 513.62 183.03 517.43 178.96 519.3 177.06 520.46 175.65 521.63 174.05 522.47 172.66 523.24 171.09 523.76 169.71 524.4 167.43 525.5 162.72 526.79 157.07 529.31 146.36 530.86 139.29 533.12 128.39 535.51 118.08 536.42 114.66 537.13 112.44 538.29 109.47 539 107.89 539.39 107.21 539.45 107.15 539.52 106.79 539.58 106.97 539.65 106.61 539.71 106.6 539.77 106.34 539.9 106.22 539.97 105.89 540.03 105.94 540.1 105.55 540.16 105.71 540.23 105.33 540.29 105.23 540.36 105.28 540.42 105.61 540.49 105.34 540.55 105.77 540.61 104.86 540.68 104.87 540.74 104.54 540.81 105.52 540.87 105.39 540.94 104.52 541 104.29 541.07 105.29 541.13 105.3 541.2 104.73 541.26 104.63 541.32 105.08 541.45 104.67 541.52 104.96 541.58 104.65 541.65 104.81 541.78 103.28 541.91 103.42 541.97 103.62 542.04 104.09 542.1 104.3 542.16 103.96 542.23 102.42 542.29 102.62 542.36 103.03 542.42 102.88 542.55 102.36 542.62 103.42 542.68 102.28 542.75 102.52 542.81 103.18 542.87 103.11 542.94 103.28 543.07 101.63 543.13 101.92 543.2 103.08 543.26 103.12 543.33 102.76 543.39 102.94 543.46 102.94 543.52 101.75 543.59 102.52 543.65 101.99 543.71 102.43 543.78 101.09 543.91 102.65 543.97 101.38 544.04 102.29 544.1 101.94 544.17 102.23 544.23 101.8 544.3 102.12 544.36 102.06 544.42 102.34 544.49 100.75 544.55 102.18 544.68 101.72 544.75 102.26 544.94 101.26 545.01 101.32 545.07 101.62 545.14 100.99 545.2 100.83 545.26 101.73 545.33 101.75 545.39 100.97 545.46 101.36 545.52 100.52 545.59 102.08 545.65 101.03 545.78 101.61 545.85 100.31 545.91 101.55 545.97 100.42 546.1 100.02 546.17 101.65 546.23 101.55 546.3 101.67 546.36 101.19 546.43 100.03 546.56 101.45 546.62 101.53 546.69 100.26 546.75 100.49 546.81 101.68 546.88 100.52 546.94 101.28 547.01 101.06 547.07 101.42 547.14 99.68 547.2 100.71 547.27 100.38 547.33 101.17 547.46 100.29 547.59 99.77 547.65 101.04 547.72 101.05 547.78 100.73 547.85 100.91 547.91 99.91 547.98 100.77 548.04 100.76 548.11 100.5 548.17 100.38 548.3 101.44 548.36 100.03 548.43 101.22 548.49 99.78 548.56 100.95 548.62 100.93 548.75 99.65 548.82 100.67 548.88 100.47 548.95 100.59 549.01 101.17 549.08 100.82 549.14 99.6 549.2 99.55 549.27 100.87 549.33 99.58 549.4 101.32 549.46 99.96 549.53 101.29 549.59 100.51 549.66 100.53 549.72 100.48 549.79 99.5 549.91 101.28 549.98 101.09 550.04 99.85 550.11 101.05 550.17 101.18 550.24 100.91 550.3 99.38 550.43 100.98 550.5 99.99 550.56 100.53 550.63 100.18 550.69 99.32 550.82 100.2 550.88 99.3 550.95 100.25 551.01 100.35 551.08 99.57 551.14 99.36 551.27 100.5 551.34 100.43 551.4 101.18 551.46 100.73 551.53 99.69 551.59 100.24 551.66 99.53 551.79 100.08 551.85 99.61 551.92 100.21 551.98 99.87 552.11 100.48 552.18 99.67 552.24 101.01 552.3 99.25 552.37 99.28 552.43 99.53 552.5 100.23 552.56 100.26 552.63 100.35 552.69 100.24 552.76 100.7 552.82 99.57 552.89 99.41 552.95 100.15 553.01 99.46 553.08 100.55 553.14 99.44 553.21 99.22 553.27 99.8 553.34 99.23 553.4 99.69 553.47 99.75 553.6 100.98 553.66 100.85 553.73 99.48 553.79 100.73 553.85 99.75 553.92 100.77 553.98 99.61 554.05 99.22 554.18 101 554.24 99.64 554.31 100.15 554.37 99.39 554.44 100.78 554.5 100.52 554.56 99.28 554.63 99.44 554.69 99.3 554.76 100.05 554.89 99.25 554.95 99.77 555.02 100.88 555.08 100.75 555.15 101.05 555.21 100.83 555.28 101 555.47 99.38 555.6 100.73 555.66 99.28 555.73 99.26 555.79 99.15 555.86 101 555.92 99.9 555.99 99.82 556.05 100 556.11 100.68 556.18 99.25 556.31 100.97 556.44 99.63 556.5 100.65 556.57 99.53 556.63 100.63 556.7 100.2 556.83 100.79 556.89 99.33 556.95 100.38 557.02 99.58 557.08 99.31 557.15 100.49 557.21 101.03 557.28 100.02 557.34 100.59 557.41 99.35 557.47 100.72 557.54 99.64 557.6 100.99 557.67 100.52 557.73 100.66 557.79 99.39 557.86 99.88 557.92 99.77 557.99 100.89 558.05 100.45 558.12 99.32 558.18 99.86 558.25 99.58 558.38 100.65 558.44 99.28 558.5 100.54 558.57 100.72 558.63 99.79 558.7 100.89 558.76 99.57 558.83 99.67 558.89 100.31 558.96 100.06 559.02 100.11 559.09 100.91 559.15 100.9 559.22 100.38 559.28 101.05 559.47 99.85 559.54 100.07 559.6 100.73 559.67 99.59 559.73 99.53 559.8 99.78 559.86 99.74 559.93 100.58 559.99 99.45 560.12 100.73 560.18 99.75 560.31 99.98 560.38 100.17 560.44 99.6 560.51 99.67 560.57 99.94 560.64 100.96 560.7 100.64 560.77 99.19 560.83 100.31 560.89 99.87 560.96 100.84 561.02 99.99 561.09 99.92 561.22 99.22 561.28 100.22 561.41 100.8 561.54 100.25 561.6 99.24 561.67 100.12 561.73 99.81 561.8 99.7 561.86 101.09 561.99 100.08 562.06 101.02 562.12 100.84 562.19 99.67 562.25 99.83 562.32 100.87 562.38 100.91 562.44 99.5 562.51 100.23 562.57 100.53 562.64 99.75 562.7 99.85 562.77 99.22 562.83 100.95 562.9 99.67 563.03 100.68 563.09 100.2 563.15 101.13 563.22 100.93 563.28 100.96 563.35 99.83 563.41 99.8 563.48 100.71 563.54 100.59 563.61 99.69 563.67 100.44 563.74 100.52 563.8 99.36 563.87 100.14 563.93 100.16 563.99 100.02 564.06 101.13 564.19 99.71 564.25 100 564.32 99.56 564.38 100.71 564.45 100.42 564.51 100.92 564.64 101.28 564.71 101.12 564.77 101.24 564.83 100.76 564.9 100.87 564.96 100.25 565.03 100.28 565.09 100.81 565.16 100.66 565.29 101.48 565.42 101.02 565.48 100.47 565.54 100.83 565.61 102.38 565.67 101.36 565.74 102.52 565.8 101.59 565.87 101.25 565.93 101.64 566 102.87 566.06 102.39 566.13 102.94 566.19 102.15 566.26 102.17 566.32 102.24 566.38 103.09 566.45 102.74 566.51 103.62 566.58 102.35 566.64 102.46 566.71 104.34 566.77 103.44 566.84 103.27 566.9 104.34 566.97 104.86 567.03 105.06 567.09 103.82 567.16 105.31 567.29 104.06 567.35 105.64 567.42 104.52 567.48 105.19 567.55 105.42 567.61 105.37 567.68 105.77 567.74 104.93 567.93 106.8 568.06 105.39 568.13 105.75 568.19 107.51 568.26 107.11 568.32 107.06 568.39 107.36 568.45 108.11 568.52 108.14 568.58 107.66 568.64 107.49 568.84 108.19 568.9 109.69 568.97 109.5 569.03 109.5 569.1 109.88 569.16 109.86 569.29 110.43 569.36 111.32 569.42 109.92 569.48 110 569.61 111.86 569.68 111.79 569.74 111.17 569.81 112.06 569.87 112.16 569.94 112.45 570 112.21 570.13 114.52 570.26 113.57 570.32 115.44 570.52 116.56 570.58 116.73 570.65 115.9 570.71 116.59 570.78 116.7 570.91 118.17 570.97 117.71 571.03 119.29 571.1 119.31 571.16 119.6 571.23 119.48 571.29 119.73 571.36 120.52 571.42 120.85 571.49 121.91 571.55 121.73 571.62 121.68 571.68 122.9 571.74 122.73 571.81 123.65 571.94 124.37 572 125.74 572.13 126.69 572.2 126.58 572.33 127.61 572.39 129.33 572.46 129.89 572.52 131.09 572.58 130.99 572.78 134.68 572.84 134.25 572.91 136.2 572.97 136.21 573.1 139.92 573.17 139.94 573.23 140.58 573.3 143.28 573.36 142.8 573.42 144.48 573.49 144.78 573.55 145.69 573.62 147.95 573.68 147.66 573.75 150.55 573.81 150.82 573.94 153.14 574.01 153.31 574.07 153.31 574.13 155.95 574.2 155.52 574.26 156.01 574.33 157.64 574.39 156.69 574.46 158.44 574.52 157.76 574.59 158.16 574.72 157.58 574.78 157.97 574.91 161.38 574.97 161.89 575.04 159.77 575.1 160.15 575.17 160.2 575.23 160.16 575.3 161.91 575.36 159.97 575.43 161.66 575.49 161.96 575.56 160.41 575.62 161.9 575.75 159.21 575.81 164.26 575.88 160.47 575.94 165.13 576.01 162.82 576.07 157.85 576.14 156.04 576.2 155.73 576.27 157.63 576.4 154.55 576.59 165.89 576.65 153.65 576.72 152.99 576.78 152.81 576.85 154.68 576.98 151.13 577.04 153.81 577.11 151 577.17 158.17 577.23 151.9 577.3 149.41 577.36 149.74 577.43 154.87 577.49 156.63 577.56 145.61 577.62 155.46 577.69 141.16 577.75 152.66 577.82 140.01 577.88 147.8 577.95 135.96 578.01 149.34 578.07 150.31 578.14 139.13 578.2 136.76 578.27 145.47 578.4 138.87 578.46 146.6 578.59 141.1 578.72 150.06 578.78 134.5 578.85 150.8 578.91 133.4 578.98 136.55 579.04 144.8 579.11 136.82 579.17 152.81 579.24 143.28 579.3 147.6 579.37 148.86 579.43 137.86 579.5 154.28 579.56 139.2 579.62 153.94 579.69 143.27 579.75 150.63 579.88 139.86 579.95 142.43 580.01 154.78 580.21 144.93 580.27 157.01 580.33 142.96 580.4 143.53 580.46 141.85 580.53 154.24 580.59 154.15 580.66 144.25 580.85 157.57 580.92 154.46 580.98 147.28 581.05 146.46 581.11 152.5 581.17 143.75 581.24 150.21 581.3 150.17 581.37 152.15 581.43 152.08 581.5 152.83 581.56 145.76 581.69 154.97 581.76 151.93 581.82 144.57 581.95 157.08 582.01 152.41 582.08 151.76 582.14 158.56 582.21 144.54 582.27 145.29 582.34 157.38 582.4 150.79 582.47 154.36 582.53 155.88 582.6 155.01 582.66 158.26 582.72 149.11 582.79 153.81 582.85 149.06 582.92 147.46 583.11 157.25 583.18 150.03 583.24 149.75 583.31 148.3 583.37 157.41 583.44 158.73 583.5 147.1 583.63 158.14 583.69 149.63 583.76 158.72 583.82 150.79 583.89 151.9 583.95 149.74 584.02 158.3 584.08 147.18 584.21 146.25 584.27 149.28 584.34 155.49 584.4 146.49 584.47 151.46 584.53 150.1 584.6 150.91 584.66 157.06 584.73 148.42 584.79 151.23 584.86 156.96 584.92 154.89 584.99 158.05 585.05 154.23 585.11 146.89 585.18 154.95 585.24 154.83 585.31 149.49 585.37 159.02 585.44 158.56 585.5 150.37 585.57 158.48 585.63 152.21 585.7 149.55 585.82 159.25 585.89 157.63 586.02 147.95 586.08 151.89 586.15 151.36 586.21 152.71 586.28 156.24 586.34 152.61 586.41 160.39 586.54 150.05 586.6 157.94 586.66 152.22 586.73 151.31 586.79 158.63 586.86 149.59 586.92 157.55 586.99 148.28 587.05 156.3 587.18 148.54 587.25 150.22 587.37 158.36 587.44 152.94 587.5 153.32 587.57 160.11 587.7 149.08 587.83 158.69 587.89 152.73 587.96 155.21 588.02 149.28 588.15 160.81 588.21 159.08 588.28 158.92 588.34 148.92 588.41 156.59 588.47 156.75 588.54 148.67 588.6 158.64 588.73 149.11 588.8 149.62 588.86 159.34 588.93 155.35 588.99 158.21 589.05 152.44 589.12 158.34 589.18 159.26 589.25 158.06 589.31 159.92 589.38 152.37 589.44 158.05 589.51 156.53 589.57 158.17 589.64 156.85 589.7 157.85 589.76 157.26 589.83 152.7 589.89 159.65 589.96 153.06 590.09 160.8 590.15 160.5 590.22 150.44 590.28 161.58 590.35 158.59 590.41 151.04 590.48 161.22 590.54 159.56 590.6 158.85 590.67 151.57 590.73 160.92 590.8 150.23 590.86 160.95 590.93 155.23 590.99 152.59 591.06 155.41 591.19 157.07 591.25 159.5 591.31 149.98 591.38 157.64 591.44 154.64 591.51 155.43 591.57 150.58 591.64 159.91 591.7 161.11 591.77 151.55 591.83 156.64 591.9 154.99 591.96 155.25 592.03 153.28 592.09 152.62 592.15 154.44 592.22 163.51 592.28 152.81 592.35 163.15 592.41 152.68 592.48 163.82 592.54 153.89 592.61 155.71 592.67 163.7 592.74 154.37 592.8 156.69 592.86 162.7 592.93 153.01 592.99 156.78 593.06 158.52 593.12 152.36 593.19 162.04 593.25 162.48 593.32 153.31 593.38 162.86 593.45 154.46 593.51 162.41 593.58 154.69 593.64 160.04 593.7 157.44 593.77 157.67 593.83 160.52 593.96 157.45 594.03 164.19 594.09 154.23 594.16 155.54 594.22 163.61 594.29 163.51 594.35 161.45 594.41 156.73 594.54 163 594.61 157.39 594.67 164.98 594.74 158.69 594.8 158.41 594.87 166.97 594.93 161.37 595 161.41 595.06 157.07 595.13 165.77 595.19 164.15 595.25 158.73 595.32 168.89 595.38 160.06 595.45 166.81 595.51 167.46 595.58 160.25 595.64 167.71 595.71 169.74 595.77 170.58 595.84 165.47 595.9 166.56 595.96 171.34 596.03 168.91 596.09 171.54 596.16 166.03 596.22 171.49 596.35 166.42 596.42 173.68 596.48 166.77 596.55 171.81 596.61 170.61 596.68 174.57 596.74 170.8 596.8 170.89 596.87 172.51 596.93 170.33 597.06 178.92 597.13 171.07 597.19 174.59 597.26 174.55 597.32 175.08 597.39 180.27 597.45 178.49 597.52 180.5 597.58 176.2 597.64 174.93 597.71 176.9 597.77 176.09 597.9 182.89 597.97 180.36 598.03 182.5 598.1 181.84 598.23 183.39 598.29 180.24 598.35 181.22 598.48 179.46 598.55 184.59 598.61 180.56 598.74 183.58 598.81 181.53 598.94 187.54 599 187.27 599.07 186.53 599.13 184.81 599.19 185.78 599.26 185.49 599.32 189.02 599.45 186.95 599.52 186.75 599.65 189.15 599.71 188.96 599.78 187.28 599.84 187.68 599.9 189.76 599.97 187.18 600.03 190.85 600.16 189.64 600.23 188.45 600.29 189.44 600.36 189.17 600.42 188.33 600.49 190.41 600.55 191.11 600.68 190 600.74 191.47 600.81 191.85 600.87 189.72 600.94 188.97 601 189.23 601.07 191.06 601.13 190.89 601.2 189.8 601.26 189.4 601.33 191.4 601.39 189.66 601.45 190.5 601.52 192.22 601.58 191.38 601.65 192.76 601.71 191.63 601.78 191.36 601.84 190.63 601.91 192.04 601.97 191.18 602.04 191.21 602.1 191.66 602.17 191.47 602.23 191.95 602.29 191.59 602.36 192.06 602.42 190.88 602.49 193.1 602.55 191.13 602.62 191.5 602.68 193.5 602.75 191.67 602.81 192.66 602.88 192.32 602.94 192.34 603 191.83 603.07 192.51 603.13 192.17 603.2 193.26 603.26 193.67 603.33 192.21 603.39 191.45 603.46 193.74 603.52 191.73 603.59 193.05 603.65 192.42 603.72 193.39 603.78 192.4 603.84 193.04 603.91 192.21 603.97 193.46 604.04 193.35 604.1 192.69 604.17 193.92 604.23 191.93 604.3 192.8 604.36 191.98 604.43 193.81 604.49 192.62 604.55 193.78 604.62 194.05 604.68 193.26 604.75 193.21 604.81 193.02 604.88 193.23 604.94 193.83 605.01 192.78 605.07 193.69 605.14 193.65 605.2 192.6 605.27 192.82 605.33 192.74 605.39 192.33 605.46 192.49 605.52 193.83 605.59 192.26 605.65 193.22 605.72 193.15 605.78 193.73 605.91 193.17 605.98 194.25 606.04 192.86 606.11 193.62 606.17 192.93 606.23 192.86 606.3 193.1 606.36 194.2 606.43 193.23 606.49 193.65 606.56 192.94 606.62 192.95 606.69 193.38 606.75 192.93 606.82 194.1 606.88 192.78 606.94 192.49 607.07 192.81 607.14 193.62 607.2 192.59 607.33 194.01 607.46 192.78 607.53 193.13 607.59 192.83 607.66 194.39 607.72 192.58 607.78 192.68 607.85 193.5 607.91 192.69 607.98 194.14 608.04 193.79 608.11 194.18 608.17 193.21 608.24 192.74 608.3 192.72 608.37 194.37 608.43 193.04 608.56 194.12 608.62 192.82 608.75 194.48 608.88 193.25 608.95 192.93 609.01 194.2 609.08 193.45 609.14 194.43 609.21 192.84 609.27 194.59 609.33 192.74 609.4 193.53 609.46 193.17 609.59 193.66 609.66 193.8 609.72 194.25 609.79 194.1 609.85 194.48 609.92 194.15 609.98 193.4 610.04 193.61 610.11 193.58 610.17 193.66 610.24 192.86 610.3 193.05 610.37 194.19 610.5 192.84 610.56 194.2 610.63 193.36 610.69 193.47 610.76 193.44 610.82 193.66 610.88 193.31 610.95 194.02 611.01 192.94 611.14 194.11 611.21 193.53 611.27 193.44 611.34 192.99 611.4 193.55 611.53 194.1 611.59 193.97 611.66 194.24 611.79 193.14 611.92 194.42 611.98 194.75 612.05 193.12 612.11 194.26 612.24 193 612.31 193.02 612.37 193.77 612.43 193.08 612.5 194.07 612.56 193.03 612.63 193.54 612.69 194.71 612.76 193.29 612.82 194.56 612.89 192.94 612.95 194.78 613.02 193.41 613.08 194.59 613.15 193.84 613.21 194.17 613.27 193.2 613.34 194.37 613.4 193.51 613.47 193.08 613.53 194.79 613.6 193.53 613.66 194.75 613.73 193.41 613.79 193.26 613.86 194.66 613.92 193.21 613.98 194.08 614.05 194.34 614.11 193.07 614.18 194.2 614.24 194.54 614.31 194.31 614.37 193.2 614.44 193.04 614.5 194.07 614.57 194 614.63 193.8 614.7 193.34 614.76 194.95 614.82 193.43 614.89 193.09 614.95 194.19 615.02 194.13 615.08 193.12 615.15 194.19 615.21 194.25 615.28 193.32 615.34 194.07 615.41 193.74 615.47 194.44 615.53 193.68 615.6 194.29 615.66 193.48 615.73 194.05 615.79 193.22 615.86 193.95 615.92 193.35 615.99 194.16 616.05 193.72 616.12 194.5 616.18 193.88 616.25 193.73 616.31 194.65 616.44 193.24 616.5 194.64 616.63 193.41 616.76 194.98 616.83 194.02 616.89 194.14 616.96 193.24 617.02 193.75 617.08 193.54 617.15 194.33 617.21 193.31 617.28 193.44 617.34 194.87 617.41 193.77 617.47 193.3 617.54 193.79 617.6 193.17 617.67 194.55 617.73 193.92 617.8 194.03 617.86 194.49 617.92 193.55 617.99 194.23 618.12 193.55 618.18 193.66 618.25 194.88 618.31 194.96 618.38 193.48 618.44 193.81 618.51 194.79 618.57 194.82 618.63 194.11 618.7 194.73 618.76 193.27 618.83 194.64 618.89 193.25 619.02 194 619.09 193.78 619.15 193.74 619.22 194.53 619.28 194.14 619.35 194.96 619.41 194.99 619.47 193.25 619.6 193.62 619.67 194.89 619.73 193.88 619.8 193.7 619.86 194.25 619.93 194.36 619.99 193.68 620.06 195.07 620.12 194.18 620.18 194.59 620.31 194.02 620.38 194.28 620.44 193.39 620.51 193.38 620.57 193.62 620.64 193.55 620.77 194.57 620.83 193.51 620.9 194.87 620.96 193.94 621.02 193.86 621.09 194.88 621.15 194.7 621.22 193.79 621.28 193.43 621.35 194.33 621.48 193.72 621.61 194.19 621.67 193.85 621.8 193.54 621.86 194 621.93 193.81 621.99 194.71 622.06 194.78 622.12 193.52 622.19 194.66 622.25 194.24 622.32 193.37 622.38 194.81 622.45 193.77 622.51 194.61 622.57 193.88 622.64 193.5 622.7 193.5 622.77 193.58 622.83 194.09 622.9 194.04 622.96 194.76 623.03 194.87 623.09 193.64 623.16 194.99 623.22 193.28 623.29 194.73 623.35 193.69 623.41 194.22 623.54 193.62 623.61 194.52 623.67 193.49 623.74 193.62 623.8 193.96 623.87 193.97 623.93 194.35 624 193.2 624.06 194.34 624.12 194.62 624.25 193.3 624.32 193.29 624.45 194.33 624.51 193.64 624.58 194 624.64 193.49 624.71 193.47 624.77 193.72 624.84 193.19 624.9 193.83 624.96 193.19 625.09 194.67 625.16 193.87 625.22 193.59 625.35 194.77 625.42 194.41 625.48 193.57 625.55 194.69 625.61 195.07 625.67 193.38 625.74 193.19 625.93 193.67 626 194.01 626.13 193.63 626.19 194.45 626.26 194.69 626.32 193.73 626.39 193.91 626.45 193.15 626.51 194.28 626.58 194.28 626.64 194.85 626.71 195.06 626.77 194.82 626.9 193.2 626.97 194.87 627.03 194.78 627.1 193.76 627.22 195 627.29 193.35 627.35 194.8 627.48 193.61 627.55 193.56 627.61 193.22 627.74 194.8 627.81 194.93 627.87 193.83 627.94 194.04 628 194.6 628.06 194.77 628.13 194.4 628.19 194.52 628.26 194.39 628.32 194.4 628.39 193.61 628.45 194.18 628.52 193.42 628.65 194.52 628.71 193.27 628.77 193.81 628.84 193.43 628.9 194.63 628.97 193.18 629.1 194.35 629.23 194.89 629.29 195.02 629.42 194.48 629.49 194.04 629.55 194.3 629.61 195 629.68 194.8 629.74 195.05 629.81 195.01 629.94 193.83 630 194.78 630.07 193.34 630.13 193.14 630.26 194.99 630.33 194.73 630.45 193.24 630.52 193.15 630.58 193.63 630.65 193.33 630.71 194.89 630.78 194.08 630.84 194.14 630.91 194.65 630.97 193.97 631.04 193.97 631.1 193.16 631.16 194.95 631.23 194.49 631.29 194.74 631.49 194.35 631.55 193.19 631.62 194.43 631.68 194.12 631.75 194.75 631.81 194.64 631.88 194.65 631.94 193.95 632 194.48 632.07 194.53 632.13 194.04 632.2 195.05 632.26 193.37 632.33 194.98 632.46 193.12 632.52 194.74 632.59 194.99 632.65 194.11 632.71 193.83 632.84 194.64 632.91 193.71 632.97 193.91 633.04 194.39 633.17 193.41 633.23 194.05 633.3 194.3 633.36 193.85 633.43 194.07 633.49 194.88 633.55 193.28 633.62 194.83 633.68 193.6 633.75 194.21 633.81 193.51 633.88 194.03 633.94 193.44 634.07 194.58 634.14 193.54 634.2 193.42 634.26 194.07 634.33 193.22 634.39 193.66 634.46 193.21 634.52 194.68 634.59 193.19 634.65 193.54 634.72 193.19 634.78 194.37 634.91 193.28 635.04 194.49 635.1 194.49 635.17 193.18 635.23 193.73 635.3 194.96 635.43 193.95 635.49 194.69 635.62 193.73 635.69 194.89 635.75 194.56 635.81 193.3 635.88 194.98 635.94 194.84 636.01 193.42 636.14 194.12 636.2 193.34 636.27 194.64 636.33 195.05 636.4 193.43 636.53 194.38 636.59 193.9 636.65 194.9 636.85 193.36 636.91 194.42 636.98 194.93 637.04 194.88 637.17 193.8 637.24 193.64 637.3 193.66 637.37 193.3 637.43 193.68 637.49 193.71 637.56 193.86 637.69 193.58 637.75 193.09 637.82 194.69 637.88 193.76 637.95 194.8 638.01 194.64 638.08 193.18 638.14 194.23 638.2 193.91 638.27 194.62 638.33 194.02 638.4 195 638.53 193.12 638.59 193.66 638.66 193.7 638.72 193.93 638.79 194.4 638.85 193.48 638.92 194.26 638.98 194.36 639.04 193.94 639.11 193.07 639.17 193.56 639.24 193.68 639.3 194.78 639.37 193.41 639.43 194.19 639.5 193.77 639.56 193.9 639.63 193.45 639.69 194.98 639.75 194.84 639.82 194.47 639.88 194.63 639.95 193.66 640.01 194.8 640.08 194.85 640.14 193.96 640.21 194.9 640.27 193.42 640.34 194.37 640.4 194.42 640.53 193.05 640.59 194.46 640.66 194.57 640.72 194.28 640.79 193.45 640.85 193.13 640.92 194.72 640.98 194.97 641.05 194.41 641.11 194.38 641.18 193.51 641.24 193.64 641.3 193.5 641.37 194.23 641.43 194.15 641.5 193.1 641.56 194.93 641.63 194.98 641.69 194.99 641.76 193.36 641.82 193.97 641.89 193.6 641.95 193.69 642.02 193.36 642.21 194.79 642.27 194.18 642.34 194.62 642.4 193.12 642.47 193.46 642.53 194.44 642.6 193.97 642.66 194.06 642.73 193.78 642.79 193.07 642.85 194.45 642.92 193.75 642.98 193.98 643.05 193.05 643.11 194.57 643.18 193.68 643.24 194.83 643.37 193.04 643.44 193.53 643.5 194.95 643.57 192.98 643.63 193.9 643.69 193.82 643.76 193.06 643.89 194.56 644.02 193.46 644.15 194.66 644.21 194.2 644.28 194.79 644.34 194.8 644.4 194.76 644.47 193.95 644.6 194.63 644.66 193.47 644.73 193.73 644.79 193.3 644.86 194.67 644.92 193.71 644.99 194.46 645.05 193.97 645.12 194.07 645.18 193.79 645.24 193.81 645.31 193.09 645.44 194.27 645.5 193.34 645.57 194.66 645.63 193.38 645.76 194.45 645.83 193.42 645.89 194.75 645.96 194.91 646.08 193.93 646.15 193.66 646.21 194.32 646.34 192.92 646.41 192.88 646.54 194.33 646.67 193.27 646.79 192.96 646.86 194.14 646.92 194.24 646.99 194.24 647.05 193.29 647.12 192.92 647.18 193.75 647.25 194 647.31 193.52 647.38 194.04 647.44 193.72 647.51 194.52 647.57 194.7 647.63 194.05 647.76 194.58 647.83 192.86 647.96 194.07 648.02 192.78 648.09 194.65 648.15 194.14 648.22 193 648.28 192.81 648.34 193.18 648.41 194.46 648.47 193.65 648.54 194.69 648.6 194.7 648.67 193 648.73 194.82 648.8 194.62 648.86 194.59 648.93 193.3 648.99 193.47 649.06 194.34 649.12 193.92 649.18 192.76 649.25 194.33 649.31 194.63 649.38 193.39 649.44 194.53 649.51 193.57 649.64 194.67 649.7 193.33 649.77 193.12 649.83 194.05 649.89 194.38 649.96 192.62 650.02 194.18 650.09 194.17 650.15 193.9 650.22 194.17 650.28 194.15 650.35 192.68 650.41 194.48 650.48 192.86 650.61 194.56 650.67 194.31 650.73 193.21 650.8 193.41 650.86 194.09 650.93 193.97 650.99 192.59 651.06 192.99 651.12 193.14 651.19 192.57 651.25 194.06 651.32 193.84 651.38 192.73 651.44 193.58 651.51 193.56 651.64 192.34 651.77 192.82 651.83 193.51 651.9 192.94 651.96 193.98 652.03 193.91 652.09 194.01 652.22 192.37 652.28 192.78 652.35 193.83 652.41 192.96 652.48 193.63 652.54 192.59 652.67 193.82 652.74 193.72 652.8 194.16 652.87 193.55 652.93 193.59 653.06 192.87 653.12 192.27 653.19 192.5 653.38 193.89 653.45 192.95 653.51 194.11 653.58 194.12 653.64 192.81 653.71 193.85 653.77 192.33 653.9 193.03 653.96 192.11 654.03 193.88 654.16 193.02 654.22 192 654.29 193.95 654.42 192.07 654.48 193.77 654.55 192.52 654.61 192.54 654.67 193.26 654.74 192.86 654.8 191.96 654.87 192.99 654.93 193.01 655 192.76 655.06 193.93 655.13 192.19 655.19 193.87 655.26 191.78 655.32 191.79 655.38 192.12 655.45 191.94 655.58 193.23 655.64 192.55 655.71 192.37 655.77 193.57 655.84 192.14 655.9 193.18 655.97 192.7 656.03 193.24 656.1 193.2 656.16 191.85 656.22 192.07 656.29 193.66 656.35 192.05 656.42 191.69 656.48 192.18 656.55 192.19 656.61 193.15 656.68 192.15 656.74 192.86 656.81 191.62 656.93 192.96 657 191.67 657.06 191.91 657.13 193.2 657.19 193.16 657.26 193.6 657.32 191.87 657.39 193.42 657.45 192.97 657.52 191.91 657.58 192.88 657.65 192.92 657.71 193.4 657.77 193.43 657.84 192.23 657.9 193.21 657.97 191.31 658.03 193.44 658.1 192.77 658.16 193.06 658.23 191.4 658.29 191.73 658.36 193.19 658.42 193.3 658.48 193.23 658.55 191.71 658.61 191.68 658.74 192.24 658.81 192.29 658.87 191.97 658.94 193.08 659 191.48 659.07 191.51 659.13 191.72 659.2 192.73 659.26 192.77 659.32 190.98 659.39 191.04 659.45 191.49 659.52 191.39 659.58 192.13 659.65 191.14 659.78 192.13 659.84 191.55 659.91 192.94 660.03 191.13 660.1 191.96 660.16 191.76 660.23 191.74 660.29 190.83 660.36 192.55 660.42 191.4 660.62 192.84 660.68 191.5 660.75 192.49 660.81 191.53 660.87 191.87 660.94 191.91 661 190.76 661.07 192.62 661.13 191.49 661.26 192.43 661.33 191.83 661.39 190.7 661.46 192.26 661.52 191.1 661.59 192.06 661.65 191.45 661.71 191.35 661.78 192.47 661.84 190.7 661.91 191.7 661.97 192.09 662.04 192.07 662.1 190.2 662.17 190.28 662.23 191.39 662.3 191.85 662.36 190.78 662.42 192.33 662.49 190.38 662.55 192.4 662.62 192.28 662.68 191.57 662.75 191.26 662.81 192.32 662.88 191.63 662.94 189.93 663.01 190.42 663.07 192.11 663.14 190.12 663.2 191.09 663.26 189.81 663.33 191.4 663.39 191.41 663.46 190.49 663.59 191.42 663.65 190.8 663.72 190.5 663.78 191.27 663.85 190.01 663.91 190.17 663.97 190.13 664.04 190.34 664.1 191.36 664.17 190.18 664.23 191.45 664.3 191.51 664.36 190.6 664.43 191.39 664.49 191.48 664.62 189.36 664.69 191.58 664.75 190.61 664.81 191.45 664.88 190.33 664.94 190.22 665.01 190.4 665.07 191.49 665.14 189.84 665.2 190.29 665.33 189.85 665.4 189.23 665.46 190.37 665.52 189.17 665.59 190.97 665.65 190.25 665.72 190.91 665.78 190.41 665.85 189.07 665.91 188.86 665.98 190.08 666.04 190.55 666.11 190.41 666.17 188.94 666.24 190.07 666.3 190.64 666.36 189.03 666.43 189.82 666.49 190 666.56 188.78 666.62 189.15 666.69 190.96 666.75 188.55 666.88 190.47 666.95 188.61 667.01 189.81 667.07 189.12 667.14 188.93 667.2 190.3 667.27 188.29 667.4 190.58 667.46 189.34 667.53 190.62 667.59 188.17 667.72 189.63 667.79 188.54 667.85 188.53 667.91 188.74 667.98 189.89 668.04 190.23 668.11 188.26 668.17 188.15 668.24 189.51 668.37 189.31 668.43 189.6 668.5 187.89 668.56 188.9 668.62 188.42 668.69 188.66 668.75 189.95 668.82 189.97 668.88 189.75 668.95 188.83 669.01 188.46 669.08 187.49 669.21 188.09 669.27 188.98 669.34 189.06 669.4 188.12" fill="none" stroke="#ffb900" stroke-width="2.15" stroke-linejoin="round" stroke-linecap="square"/>
<path d="M427.2 198 484.55 197.93 528.47 197.73 557.73 197.49 561.35 197.3 566.13 196.85 574.72 195.93 579.75 195.45 582.34 195.07 584.15 194.68 585.05 194.35 586.02 193.82 587.05 193.08 588.15 192.08 588.86 191.3 589.38 190.47 590.02 189.05 590.8 186.97 590.93 186.54 590.99 186.54 591.06 186.02 591.12 185.96 591.19 185.45 591.25 185.23 591.31 185.7 591.38 185.38 591.44 184.72 591.51 185.09 591.57 184.09 591.64 184.06 591.7 183.4 591.77 184.13 591.83 183.34 591.9 183.26 591.96 182.88 592.03 182.08 592.09 183.14 592.15 183.22 592.22 181.63 592.28 183.06 592.41 180.55 592.48 180.51 592.54 180.7 592.61 182.52 592.67 179.25 592.74 180.66 592.86 181.44 592.93 180.92 592.99 181 593.06 178.87 593.12 179.22 593.19 179.24 593.25 176.95 593.32 179.43 593.45 176 593.51 175.55 593.58 175.68 593.64 176.05 593.7 177.13 593.83 174.2 593.9 173.64 593.96 173.95 594.03 172.45 594.09 173.41 594.16 171.93 594.22 171.34 594.29 173.9 594.35 173.63 594.41 169.92 594.48 172.32 594.54 171.35 594.61 171.09 594.67 169.04 594.74 172.04 594.8 169.77 594.87 169.54 594.93 170.67 595.06 166.86 595.13 169.86 595.25 166.96 595.32 166.91 595.38 165.71 595.45 167.12 595.51 167.72 595.64 164.25 595.71 165.6 595.77 165.49 595.84 163.65 595.9 164.21 595.96 165.82 596.03 164.59 596.09 162.18 596.16 165.61 596.22 162.38 596.29 164.07 596.35 162.07 596.42 164.33 596.48 162.12 596.55 161.12 596.61 164.27 596.68 160.41 596.74 163.81 596.8 164.05 596.87 160.53 597 163.54 597.06 160.81 597.13 161.29 597.19 159.11 597.26 159.06 597.32 159.34 597.39 160.71 597.45 159.34 597.52 159.56 597.58 161.4 597.64 159.27 597.71 161.07 597.77 160.43 597.84 161.75 597.9 161.4 598.03 158.21 598.1 158.28 598.16 160.88 598.23 159.14 598.29 160.04 598.35 160.37 598.55 157 598.61 160.43 598.68 159.5 598.74 157.46 598.81 158.44 598.87 158.81 598.94 156.95 599 160.21 599.07 156.14 599.13 158.94 599.19 156.38 599.26 156.34 599.32 156.24 599.39 157.09 599.45 156.87 599.52 159.37 599.65 156.71 599.71 158.14 599.78 156.29 599.84 156.76 599.97 155.27 600.03 157.44 600.1 156.09 600.16 158.49 600.23 155.17 600.29 155.01 600.36 155.47 600.42 155.36 600.49 155.84 600.55 156.77 600.62 154.64 600.68 157.44 600.74 155.4 600.81 157.38 600.87 154.53 600.94 155.5 601 154.85 601.07 156.79 601.2 154.5 601.26 155.38 601.33 154.08 601.39 156.79 601.45 155.52 601.52 156.54 601.58 153.71 601.65 155.15 601.71 153.53 601.78 153.42 601.84 156.49 601.91 153.87 602.04 152.44 602.1 156 602.17 155.91 602.29 152.88 602.36 155.62 602.42 151.66 602.49 152.84 602.55 155.84 602.62 152.56 602.75 154.92 602.81 152.7 602.88 152.4 602.94 152.74 603 154.29 603.07 154.53 603.13 155 603.26 153.52 603.33 153.54 603.39 154.65 603.46 151.13 603.52 153.98 603.59 154.37 603.78 151.7 603.84 154.03 603.91 153.64 603.97 154.11 604.1 149.57 604.17 150.46 604.3 149.67 604.36 152.69 604.43 150.68 604.49 151.63 604.55 151.77 604.62 149.89 604.68 150.68 604.75 150.32 604.81 151.81 604.88 148.68 604.94 149.87 605.01 149.89 605.14 148.4 605.2 151.65 605.27 151.15 605.33 147.82 605.39 149.08 605.46 147.99 605.52 150.44 605.59 147.33 605.65 149.77 605.72 147.95 605.78 147.35 605.85 149.06 605.91 149.41 605.98 148.93 606.04 150.53 606.11 150.68 606.17 146.53 606.23 147.77 606.3 150.3 606.36 147.84 606.43 149.31 606.49 146.44 606.62 150.05 606.75 145.25 606.82 146.33 606.88 145.16 606.94 149.08 607.01 148.07 607.07 145.66 607.2 148.25 607.27 147.35 607.33 147.5 607.4 145.38 607.46 144.93 607.53 144.97 607.59 145.17 607.72 143.69 607.78 146.72 607.85 146.52 607.91 143 607.98 143.35 608.04 144.26 608.11 143.5 608.17 144.09 608.24 145.58 608.3 144.2 608.37 145.62 608.43 146.19 608.56 142.45 608.62 145.58 608.69 145.89 608.75 144.82 608.82 141.97 608.88 141.33 608.95 144.18 609.01 140.63 609.08 142.86 609.14 141.66 609.21 141.59 609.27 142.53 609.33 140.39 609.4 139.94 609.46 141.89 609.53 142.58 609.59 139.22 609.79 142.57 609.85 141.22 609.92 140.79 609.98 138.74 610.04 139.12 610.11 139.9 610.17 137.69 610.24 139.15 610.3 137.53 610.37 141.42 610.43 141.16 610.5 136.97 610.56 137.41 610.63 139.66 610.69 140.18 610.76 140.24 610.82 138.76 610.88 135.63 610.95 139.03 611.01 138.53 611.08 135.3 611.14 138.47 611.21 137.98 611.27 135.13 611.4 133.69 611.47 138.2 611.59 134.81 611.66 136.07 611.72 133.7 611.79 136.23 611.85 134.01 611.92 136.16 611.98 136.02 612.05 132.36 612.11 133.06 612.18 133.17 612.24 133.99 612.37 130.48 612.5 134.95 612.56 133.61 612.63 130.57 612.69 132.99 612.76 130.3 612.82 133.09 612.89 130.75 612.95 131.81 613.02 130.69 613.08 131.36 613.21 128.96 613.27 128.97 613.4 132.24 613.47 127.68 613.53 131.47 613.73 126.04 613.79 127.26 613.86 130.49 613.92 125.55 613.98 130.49 614.05 130.37 614.11 126.26 614.18 125.04 614.24 126.42 614.31 124.9 614.37 126 614.44 128.99 614.5 125.77 614.57 124.74 614.63 126.09 614.7 124.66 614.82 127.74 614.89 123.2 614.95 126.75 615.02 126.57 615.08 126.81 615.15 125.36 615.21 124.84 615.28 125.82 615.34 125.82 615.41 123.96 615.47 126.3 615.53 123.32 615.6 125.36 615.66 125 615.73 124.89 615.79 120.45 615.86 120.43 615.92 119.23 616.05 121.63 616.12 122.09 616.18 120.77 616.25 120.3 616.31 117.99 616.37 121.65 616.44 118.09 616.5 117.61 616.57 117.39 616.63 119.14 616.7 119.01 616.76 116.54 616.83 119.82 616.89 117.47 616.96 121.43 617.15 116.94 617.21 120.1 617.28 116.06 617.34 117.35 617.41 119.81 617.47 120.22 617.6 115.13 617.67 114.01 617.73 115.15 617.8 118.22 617.86 113.96 617.92 118.3 618.05 114.84 618.12 116.69 618.18 116.59 618.25 115.79 618.31 112.75 618.44 117.44 618.57 114.08 618.63 114.21 618.7 111.5 618.76 114.12 618.83 112.24 618.89 112.35 618.96 113.97 619.02 114.12 619.09 113.74 619.15 115.73 619.22 115.81 619.35 115.3 619.41 115.48 619.47 113.41 619.54 114.84 619.6 109.54 619.73 115.38 619.8 111.15 619.86 110.69 619.93 109.11 619.99 113.4 620.06 112.82 620.12 109.99 620.18 110.64 620.25 110.52 620.31 108.44 620.38 107.93 620.44 114.05 620.57 107.89 620.64 113.63 620.77 108.66 620.83 112.91 620.96 107.31 621.09 112.89 621.15 112.08 621.22 110.09 621.28 112.5 621.35 108.25 621.41 110.64 621.48 110.05 621.54 107.13 621.61 107.33 621.67 106.8 621.74 110.59 621.86 107.52 621.93 108.27 621.99 106.22 622.06 108.64 622.12 105.34 622.19 109.67 622.25 106.79 622.38 104.44 622.45 108.27 622.51 104.93 622.57 106.65 622.64 106.31 622.7 108.7 622.77 104.61 622.83 109.75 622.9 103.72 622.96 106.37 623.03 106.2 623.09 108.74 623.16 105.44 623.22 108.73 623.29 104.27 623.35 104.77 623.41 108.44 623.48 104.38 623.54 105.32 623.61 107.44 623.67 105.01 623.74 104.75 623.8 105.97 623.87 104.67 624 103.3 624.06 103.66 624.12 108.3 624.19 103.39 624.25 102.79 624.32 105.78 624.38 103.02 624.45 107.41 624.51 108.58 624.58 105.94 624.64 108.04 624.71 107.96 624.84 102.5 624.9 105.44 624.96 102.42 625.03 105.53 625.09 105.84 625.16 108.72 625.22 108.34 625.29 103.26 625.42 105.34 625.48 103.26 625.61 107.29 625.67 103.57 625.74 104.52 625.8 108.77 625.87 103.98 625.93 107.06 626 104.02 626.06 104.22 626.13 103.77 626.19 108.98 626.26 105.04 626.32 107.86 626.39 104.43 626.45 109.32 626.51 104.49 626.58 103.96 626.64 107 626.71 106.89 626.77 106.59 626.84 104.85 626.9 110.18 626.97 105.35 627.03 108.71 627.1 108.45 627.16 105.54 627.22 110.51 627.29 110.49 627.35 107.13 627.42 106.93 627.48 110.31 627.55 107.4 627.68 111.94 627.74 110.55 627.81 111.32 627.87 109.57 627.94 109.68 628 110.24 628.06 106.97 628.13 110.49 628.19 111.86 628.26 107.1 628.32 109.22 628.39 107.36 628.45 110.76 628.52 109.95 628.58 111.94 628.65 108.04 628.71 112.7 628.77 108.7 628.84 112.76 628.9 110.25 628.97 111.29 629.03 110.72 629.1 114.71 629.16 109.86 629.29 116.43 629.36 112.81 629.42 117.04 629.49 113.67 629.55 113.55 629.61 117.19 629.68 118.09 629.74 118.3 629.81 115.26 629.87 115.01 629.94 114.23 630 118.41 630.07 120.22 630.13 117.11 630.2 116.11 630.33 119.01 630.39 120.76 630.45 118.11 630.52 117.6 630.58 122.03 630.65 119.16 630.71 119.06 630.78 117.89 630.84 122.19 630.91 122.35 630.97 124.87 631.04 124.38 631.1 120.84 631.16 124.13 631.23 120.22 631.29 124.27 631.36 121.38 631.42 124.38 631.49 121.99 631.62 125.81 631.68 125.98 631.75 125.56 631.81 126.74 631.88 121.98 631.94 121.68 632 122.53 632.07 127.67 632.13 122 632.2 122.54 632.26 122.17 632.33 123.46 632.39 126.09 632.52 124.64 632.65 126.61 632.71 120.41 632.78 123.82 632.84 122.16 632.91 125.13 632.97 119.99 633.04 120.38 633.1 124.66 633.17 123.3 633.23 119.45 633.3 123.54 633.36 123.39 633.49 121.88 633.55 117.41 633.62 116.96 633.75 119.25 633.81 115.75 633.88 116.31 633.94 119.6 634.01 118.37 634.07 114.68 634.2 115.81 634.26 114.53 634.33 115.99 634.39 113.38 634.46 115.88 634.52 110.02 634.59 110.7 634.65 112.45 634.72 108.98 634.78 110.58 634.85 110.89 634.98 109.47 635.04 107.32 635.1 108.38 635.17 111.66 635.23 112.57 635.3 106.78 635.43 108.58 635.49 109.03 635.56 105.91 635.62 111.62 635.75 109.55 635.81 105.01 635.88 106.82 635.94 107.28 636.07 109.86 636.14 110.63 636.2 109.68 636.27 109.33 636.33 107.01 636.4 107.81 636.46 103.71 636.53 103.94 636.65 108.55 636.72 107.44 636.78 109.18 636.85 104.94 636.91 106.6 636.98 102.97 637.04 106.78 637.11 103.2 637.17 106.02 637.24 104.22 637.3 106.02 637.37 102.97 637.43 106.62 637.49 106.92 637.56 107.5 637.69 102.85 637.75 104.49 637.82 101.92 637.88 103.46 638.01 103.81 638.08 106.67 638.14 103 638.2 105.48 638.27 106.08 638.33 105.85 638.4 105.34 638.46 102.3 638.53 104.37 638.59 104.22 638.66 103.36 638.72 99.76 638.79 104.19 638.85 103.82 638.92 104.06 638.98 103.57 639.04 103.6 639.11 100.08 639.17 99.04 639.24 102.75 639.3 99.62 639.37 104.47 639.5 99.71 639.56 104.38 639.63 98.45 639.69 102.27 639.75 101.57 639.82 98.63 639.88 98.75 639.95 103.3 640.08 99.81 640.14 101.55 640.21 98.41 640.27 103.16 640.34 98.12 640.4 100.38 640.47 100.4 640.53 99.93 640.59 102.61 640.66 101.44 640.72 102.88 640.79 99.08 640.85 102.14 640.92 103.35 640.98 98.52 641.05 102.05 641.11 98.13 641.18 101.4 641.3 99.21 641.37 100.96 641.43 98.21 641.5 99.09 641.56 98.57 641.69 103.53 641.76 103.26 641.82 103.45 641.95 98.29 642.02 100.89 642.08 101.7 642.14 103.78 642.21 102.11 642.27 103.37 642.34 101.64 642.4 101.65 642.47 98.61 642.53 102.12 642.6 99 642.66 104.48 642.79 100.15 642.92 104.39 643.05 101.4 643.11 98.84 643.18 103.53 643.24 104.52 643.31 100.25 643.44 102.98 643.5 102.76 643.57 103.22 643.69 99.84 643.76 103.55 643.82 99.66 643.89 102.88 643.95 102.47 644.08 105.19 644.15 104.51 644.21 104.24 644.28 103.09 644.34 102.78 644.4 100.57 644.47 103.77 644.53 101.2 644.6 104.57 644.66 103.18 644.73 105.84 644.79 100.63 644.86 104.18 644.92 102.38 645.05 103.5 645.12 105.17 645.18 101.45 645.31 106.06 645.37 106.33 645.44 103.79 645.5 103.46 645.57 105.39 645.63 105.73 645.7 101.95 645.76 102.96 645.83 106.52 645.89 102.3 645.96 107.22 646.02 102.21 646.08 102.32 646.15 107 646.21 101.47 646.28 102.12 646.34 106.85 646.41 103.86 646.54 107.28 646.6 106.96 646.67 107.04 646.73 104.12 646.79 104.85 646.86 102.37 646.92 106.75 646.99 105.72 647.05 106.53 647.12 106.56 647.25 104.18 647.31 104.95 647.38 108.73 647.44 107.81 647.51 105.68 647.63 104.38 647.7 107.77 647.76 107.27 647.83 110.04 647.89 107.16 647.96 108.67 648.02 107.39 648.09 107.06 648.15 109.96 648.22 110.72 648.28 106.78 648.34 106.88 648.41 105.34 648.54 111.54 648.6 111.63 648.67 106.09 648.73 107.75 648.8 111.56 648.86 110.08 648.93 111.69 648.99 108.16 649.06 108.62 649.12 107.54 649.25 111.21 649.31 108.17 649.38 111.7 649.44 109.64 649.51 113.09 649.57 112.91 649.64 111 649.7 113.16 649.77 109.75 649.83 112.11 649.89 109.68 649.96 111.93 650.09 112.89 650.15 115.05 650.22 114.24 650.28 110.98 650.35 112.54 650.41 112.14 650.54 116.08 650.61 112.53 650.67 115.09 650.73 113 650.8 117.65 650.99 112.77 651.06 117.52 651.12 112.81 651.25 118.05 651.32 119.37 651.38 113.85 651.44 115.6 651.51 115.48 651.64 119.76 651.7 117.5 651.77 116.65 651.83 119.09 651.9 115.03 651.96 116.35 652.03 121.2 652.09 119.66 652.16 116.09 652.22 117.21 652.28 117.05 652.35 121.01 652.41 116.92 652.54 120.21 652.61 118.68 652.67 121.55 652.74 117.72 652.8 122.92 652.87 121.94 652.93 119.37 652.99 121.38 653.06 118.72 653.12 119.25 653.19 120.33 653.25 122.47 653.32 122.17 653.38 123.01 653.45 123.31 653.51 125.31 653.64 121.54 653.77 124.12 653.83 124.34 653.96 126.21 654.03 125.93 654.16 121.65 654.29 125.53 654.35 124.42 654.42 127.18 654.55 127.97 654.61 125.16 654.67 125.23 654.74 127.99 654.8 123.5 654.87 128.45 654.93 126.45 655 125.81 655.06 129.66 655.19 127.08 655.26 126.41 655.38 126.89 655.45 130.54 655.51 130.82 655.58 126.3 655.64 130.67 655.71 129.59 655.77 126.99 655.84 131.83 655.9 127.28 656.1 131.44 656.22 128.43 656.29 132.22 656.35 132.14 656.48 129.27 656.55 131.72 656.61 131.94 656.68 128.96 656.74 131.6 656.81 130.35 657 132.91 657.13 131.02 657.19 135.11 657.26 134.57 657.32 135.09 657.39 131.88 657.45 134.81 657.52 134.29 657.58 134.11 657.65 131.8 657.71 137.34 657.77 136.51 657.84 132.86 657.9 135.35 657.97 136.04 658.03 133.01 658.1 137.86 658.16 138.56 658.23 133.79 658.29 134.47 658.42 137.92 658.48 135.28 658.55 138.89 658.61 137.6 658.68 139.19 658.74 138.08 658.81 140.47 658.87 138.18 658.94 138.4 659 135.71 659.07 139.18 659.13 138.54 659.2 140.8 659.26 140.28 659.32 140.75 659.39 136.92 659.45 141.68 659.52 139.09 659.58 138.26 659.65 137.86 659.71 139.32 659.78 142.32 659.84 138.55 659.91 140.9 659.97 141.02 660.03 139.27 660.1 144.11 660.16 140.57 660.23 140.53 660.29 141.2 660.36 143.9 660.42 140.29 660.49 144.02 660.55 143.75 660.62 141.26 660.68 140.99 660.75 144.6 660.87 141.9 661 145.49 661.07 144.91 661.13 143.74 661.2 143.44 661.26 145.75 661.33 146.53 661.39 143.67 661.46 146.28 661.52 146.74 661.59 146.68 661.71 147.79 661.78 146.68 661.84 147.83 661.91 145.67 661.97 148.57 662.04 147.45 662.1 144.63 662.17 147.25 662.23 145.23 662.3 148.7 662.36 146.06 662.42 149.69 662.49 145.54 662.55 145.63 662.68 149.68 662.75 147.08 662.81 146.99 662.88 147.87 662.94 147.41 663.01 150.11 663.07 147.68 663.14 150.52 663.2 149.3 663.33 150.99 663.39 150.91 663.46 148.02 663.52 152.12 663.59 150.19 663.65 150.37 663.72 152.28 663.78 152.54 663.85 150.99 663.97 152.1 664.1 152.5 664.23 149.24 664.3 152.53 664.36 152.22 664.43 150.96 664.49 152.91 664.56 153.88 664.62 151.58 664.75 154.82 664.88 151.03 664.94 154.96 665.01 151.24 665.07 152.64 665.14 151.77 665.2 153.13 665.33 151.91 665.4 155.27 665.46 155.67 665.52 153.71 665.59 154.24 665.65 154.18 665.72 155.02 665.78 152.37 665.85 154.17 665.91 154.26 665.98 156.96 666.04 155.97 666.11 156.06 666.17 153.05 666.24 156.93 666.36 154.56 666.43 155.15 666.49 154.66 666.56 156.51 666.62 157.48 666.69 157.31 666.75 156.03 666.82 156.27 666.88 156.86 666.95 154.78 667.01 157.1 667.07 158.01 667.14 156.46 667.2 156.65 667.27 155.9 667.33 156.96 667.4 159.39 667.46 157.49 667.53 158.84 667.59 158.73 667.66 156.6 667.72 155.91 667.79 156.39 667.85 159.12 667.91 158.43 667.98 156.74 668.04 156.92 668.11 160.23 668.24 158.23 668.3 159.94 668.37 160.74 668.56 158.21 668.62 158.21 668.69 158.99 668.75 158.95 668.82 159.35 668.88 158.35 668.95 159.01 669.01 158.97 669.08 158.19 669.14 161.36 669.21 161.75 669.27 159.9 669.34 160.31 669.4 158.6" fill="none" stroke="#41ffb6" stroke-width="2.15" stroke-linejoin="round" stroke-linecap="square"/>
<path d="M427.2 198 525.57 197.88 598.35 197.61 625.8 197.24 647.51 196.79 669.4 196.06" fill="none" stroke="#0012ff" stroke-width="3.6" stroke-linejoin="round" stroke-linecap="round"/>
</g>
<path d="M427.2 205.6v-5.0M427.2 28.9v5.0M507.93 205.6v-5.0M507.93 28.9v5.0M588.67 205.6v-5.0M588.67 28.9v5.0M669.4 205.6v-5.0M669.4 28.9v5.0M414.9 198h5.0M414.9 117.2h5.0M414.9 36.4h5.0" stroke="#000" stroke-width="1.3" fill="none"/>
<rect x="414.9" y="28.9" width="266.6" height="176.7" fill="none" stroke="#000" stroke-width="1.7"/>
<text x="427.2" y="230.6" text-anchor="middle" font-size="20.4">0</text>
<text x="507.93" y="230.6" text-anchor="middle" font-size="20.4">50</text>
<text x="588.67" y="230.6" text-anchor="middle" font-size="20.4">100</text>
<text x="669.4" y="230.6" text-anchor="middle" font-size="20.4">150</text>
<text x="547.6" y="260" text-anchor="middle" font-size="20.7"><tspan font-style="italic">t</tspan> (ms)</text>
<text x="374.5" y="16.9" font-size="21.8">(b)</text>
<clipPath id="cc"><rect x="77" y="293.9" width="266.4" height="176.8"/></clipPath>
<g clip-path="url(#cc)">
<path d="M88.4 463.1H118.66M120.18 463.06H121.69M123.2 462.96h0M124.72 462.85h0M126.23 462.64h0M127.74 462.27h0M129.25 461.59h0M130.77 460.36h0M132.28 458.19h0M133.79 454.44h0M135.31 448.32h0M136.82 439.17h0M138.33 427.52h0M139.85 416.44h0M141.36 411.11h0M142.87 414.75h0M144.39 425.11h0M145.9 436.99h0M147.41 446.74h0M148.93 453.44h0M150.44 457.59h0M151.95 460.02h0M153.46 461.39h0M154.98 462.16h0M156.49 462.59h0M158 462.82h0M159.52 462.95h0M161.03 463.02H162.54M164.06 463.08H203.4M204.91 462.89h0M206.42 462.44h0M207.94 461.53h0M209.45 460.16h0M210.96 458.82h0M212.48 458.25h0M213.99 458.82h0M215.5 460.16h0M217.02 461.53h0M218.53 462.44h0M220.04 462.89h0M221.56 463.05h0M223.07 463.09H268.46M269.98 463.04h0M271.49 463h0M273 462.93h0M274.51 462.82h0M276.03 462.68h0M277.54 462.51h0M279.05 462.32h0M280.57 462.12h0M282.08 461.96h0M283.59 461.85H286.62M288.13 461.96h0M289.65 462.12h0M291.16 462.32h0M292.67 462.51h0M294.19 462.68h0M295.7 462.82h0M297.21 462.93h0M298.72 463h0M300.24 463.04H301.75M303.26 463.09H330.5" fill="none" stroke="#ff3200" stroke-width="5.5" stroke-linecap="round"/>
<path d="M88.4 463.1H129.25M130.77 463.04h0M132.28 462.93h0M133.79 462.69h0M135.31 462.22h0M136.82 461.45h0M138.33 460.39h0M139.85 459.18h0M141.36 458.11h0M142.87 457.5h0M144.39 457.57h0M145.9 458.3h0M147.41 459.42h0M148.93 460.63h0M150.44 461.63h0M151.95 462.33h0M153.46 462.75h0M154.98 462.96h0M156.49 463.05H158M159.52 463.1H183.73M185.24 463.04h0M186.75 462.99h0M188.27 462.92h0M189.78 462.81h0M191.29 462.62h0M192.81 462.3h0M194.32 461.78h0M195.83 460.94h0M197.35 459.56h0M198.86 457.37h0M200.37 453.95h0M201.88 448.82h0M203.4 441.58h0M204.91 432.35h0M206.42 422.37h0M207.94 414.25h0M209.45 411.06h0M210.96 414.25h0M212.48 422.37h0M213.99 432.35h0M215.5 441.58h0M217.02 448.82h0M218.53 453.95h0M220.04 457.37h0M221.56 459.56h0M223.07 460.94h0M224.58 461.78h0M226.09 462.3h0M227.61 462.62h0M229.12 462.81h0M230.63 462.92h0M232.15 462.99h0M233.66 463.04H235.17M236.69 463.08H330.5" fill="none" stroke="#b6ff41" stroke-width="5.5" stroke-linecap="round"/>
<path d="M88.4 463.1H194.32M195.83 463.04h0M197.35 462.96h0M198.86 462.78h0M200.37 462.44h0M201.88 461.85h0M203.4 460.95h0M204.91 459.77h0M206.42 458.41h0M207.94 457.12h0M209.45 456.17h0M210.96 455.83h0M212.48 456.17h0M213.99 457.12h0M215.5 458.41h0M217.02 459.77h0M218.53 460.95h0M220.04 461.85h0M221.56 462.44h0M223.07 462.78h0M224.58 462.96h0M226.09 463.04H227.61M229.12 463.09H254.84M256.36 463.04H257.87M259.38 462.97h0M260.9 462.9h0M262.41 462.79h0M263.92 462.62h0M265.44 462.36h0M266.95 461.95h0M268.46 461.34h0M269.98 460.41h0M271.49 459h0M273 456.91h0M274.51 453.84h0M276.03 449.5h0M277.54 443.62h0M279.05 436.16h0M280.57 427.64h0M282.08 419.32h0M283.59 413.18h0M285.11 411.07h0M286.62 413.73h0M288.13 420.25h0M289.65 428.68h0M291.16 437.13h0M292.67 444.41h0M294.19 450.1h0M295.7 454.27h0M297.21 457.2h0M298.72 459.2h0M300.24 460.54h0M301.75 461.43h0M303.26 462.01h0M304.78 462.39h0M306.29 462.64h0M307.8 462.8h0M309.32 462.91h0M310.83 462.98h0M312.34 463.02H313.86M315.37 463.07H330.5" fill="none" stroke="#00a4ff" stroke-width="5.5" stroke-linecap="round"/>
<path d="M88.4 463.1H269.98M271.49 463.02h0M273 462.9h0M274.51 462.67h0M276.03 462.23h0M277.54 461.53h0M279.05 460.51h0M280.57 459.24h0M282.08 457.87h0M283.59 456.68h0M285.11 455.95h0M286.62 455.88h0M288.13 456.49h0M289.65 457.61h0M291.16 458.96h0M292.67 460.27h0M294.19 461.35h0M295.7 462.12h0M297.21 462.6h0M298.72 462.87h0M300.24 463h0M301.75 463.06H330.5" fill="none" stroke="#000080" stroke-width="5.5" stroke-linecap="round"/>
<path d="M88.4 301.5 119.87 301.54 123.81 301.68 125.93 301.93 127.44 302.31 128.65 302.83 129.56 303.43 130.46 304.3 131.07 305.09 131.68 306.09 132.28 307.38 132.89 309.01 133.49 311.08 134.1 313.68 134.7 316.93 135.31 320.95 136.21 328.67 137.12 338.71 138.03 351.12 139.54 375.78 141.36 406.01 142.57 423.04 143.48 433.55 144.39 442.05 145.29 448.61 145.9 452 146.5 454.7 147.11 456.81 147.71 458.43 148.32 459.66 148.93 460.58 149.53 461.26 150.44 461.97 151.35 462.4 152.56 462.74 154.37 462.97 158 463.08 330.5 463.1" fill="none" stroke="#800000" stroke-width="2.15" stroke-linejoin="round" stroke-linecap="square"/>
<path d="M88.4 463.1 126.23 463.06 128.95 462.94 130.46 462.74 131.68 462.4 132.58 461.97 133.49 461.26 134.1 460.58 134.7 459.66 135.31 458.43 135.91 456.81 136.52 454.7 137.12 452 137.73 448.61 138.64 442.05 139.54 433.55 140.45 423.04 141.66 406.01 144.69 355.73 145.6 342.59 146.5 331.75 147.41 323.28 148.02 318.83 148.62 315.22 149.23 312.31 149.83 309.99 150.44 308.15 151.04 306.7 151.65 305.56 152.25 304.67 153.16 303.68 154.07 303 154.98 302.53 156.19 302.13 158 301.8 160.73 301.6 167.69 301.51 184.63 301.55 188.87 301.72 191.29 302 192.81 302.34 194.02 302.76 195.23 303.4 196.13 304.09 197.04 305.02 197.95 306.29 198.86 308 199.77 310.3 200.67 313.37 201.58 317.43 202.49 322.72 203.4 329.47 204.31 337.89 205.21 348.04 206.42 364.01 209.45 408.32 210.66 423.7 211.57 433.38 212.48 441.32 213.38 447.57 214.29 452.3 214.9 454.72 215.5 456.65 216.11 458.17 216.71 459.35 217.32 460.27 217.92 460.97 218.83 461.71 219.74 462.21 220.95 462.6 222.46 462.86 225.19 463.04 235.48 463.1 271.19 463.07 274.51 462.92 276.94 462.63 279.66 462.07 282.69 461.39 284.5 461.18 286.01 461.19 287.83 461.44 292.67 462.53 295.09 462.87 298.12 463.05 309.01 463.1 330.5 463.1" fill="none" stroke="#ffb900" stroke-width="2.15" stroke-linejoin="round" stroke-linecap="square"/>
<path d="M88.4 463.1 192.2 463.07 195.53 462.95 197.35 462.73 198.56 462.43 199.46 462.06 200.37 461.5 201.28 460.64 201.88 459.84 202.49 458.8 203.09 457.45 203.7 455.74 204.31 453.57 204.91 450.88 205.82 445.67 206.73 438.87 207.63 430.34 208.54 420.1 209.75 404.1 212.78 359.79 213.99 344.47 214.9 334.89 215.81 327.04 216.71 320.8 217.62 315.95 218.53 312.25 219.44 309.46 220.34 307.37 221.25 305.82 222.16 304.68 223.07 303.84 223.98 303.22 225.19 302.64 226.7 302.18 228.52 301.87 231.54 301.63 237.9 301.52 255.75 301.55 260.9 301.71 263.62 301.95 265.74 302.33 267.25 302.79 268.46 303.34 269.67 304.11 270.58 304.9 271.49 305.91 272.4 307.23 273.3 308.93 274.21 311.12 275.12 313.91 276.03 317.45 276.94 321.9 277.84 327.4 278.75 334.11 279.66 342.13 280.87 354.85 282.38 373.51 285.11 409.45 286.32 423.58 287.22 432.62 288.13 440.18 289.04 446.25 289.95 450.96 290.86 454.51 291.46 456.33 292.07 457.8 292.67 458.97 293.28 459.89 294.19 460.92 295.09 461.63 296 462.11 297.21 462.52 298.72 462.81 301.15 463 307.5 463.09 330.5 463.1" fill="none" stroke="#41ffb6" stroke-width="2.15" stroke-linejoin="round" stroke-linecap="square"/>
<path d="M88.4 463.1 266.34 463.07 269.98 462.94 272.09 462.68 273.3 462.39 274.21 462.03 275.12 461.51 276.03 460.75 276.94 459.64 277.54 458.64 278.15 457.39 278.75 455.82 279.36 453.88 280.26 450.12 281.17 445.15 282.08 438.79 282.99 430.93 284.2 418.18 285.71 399.34 288.44 363.49 289.65 349.49 290.86 337.69 291.76 330.38 292.67 324.32 293.58 319.4 294.49 315.46 295.4 312.34 296.3 309.89 297.21 307.97 298.12 306.49 299.03 305.34 299.93 304.45 300.84 303.77 302.05 303.1 303.57 302.53 305.38 302.11 307.8 301.8 311.74 301.6 321.72 301.51 330.5 301.5" fill="none" stroke="#0012ff" stroke-width="2.15" stroke-linejoin="round" stroke-linecap="square"/>
</g>
<path d="M88.4 470.7v-5.0M88.4 293.9v5.0M209.45 470.7v-5.0M209.45 293.9v5.0M330.5 470.7v-5.0M330.5 293.9v5.0M77 463.1h5.0M77 382.3h5.0M77 301.5h5.0" stroke="#000" stroke-width="1.3" fill="none"/>
<rect x="77" y="293.9" width="266.4" height="176.8" fill="none" stroke="#000" stroke-width="1.7"/>
<text x="88.4" y="495.7" text-anchor="middle" font-size="20.4">0</text>
<text x="209.45" y="495.7" text-anchor="middle" font-size="20.4">40</text>
<text x="330.5" y="495.7" text-anchor="middle" font-size="20.4">80</text>
<text x="66.6" y="470.7" text-anchor="end" font-size="20.4">0.0</text>
<text x="66.6" y="389.9" text-anchor="end" font-size="20.4">0.5</text>
<text x="66.6" y="309.1" text-anchor="end" font-size="20.4">1.0</text>
<g transform="translate(17 383.4) rotate(-90)"><path d="M-13.35 -15.1L-16.75 -6.2L-13.35 2.7M12.95 -15.1L16.75 -6.2L12.95 2.7" fill="none" stroke="#000" stroke-width="1.4"/><text x="-11.2" y="0" font-size="20.4" font-style="italic">n</text><text x="0.3" y="3.1" font-size="15" font-style="italic">q</text></g>
<text x="209.6" y="525.1" text-anchor="middle" font-size="20.7"><tspan font-style="italic">t</tspan> (ms)</text>
<text x="0.1" y="281.9" font-size="21.8">(c)</text>
<clipPath id="cd"><rect x="414.9" y="293.9" width="266.6" height="176.8"/></clipPath>
<g clip-path="url(#cd)">
<path d="M427.2 463.1h0M431.24 463.1h0M435.27 463.1h0M439.31 463.1h0M443.35 463.09h0M447.38 463.09h0M451.42 463.08h0M455.46 463.08h0M459.49 463.07h0M463.53 463.06h0M467.57 463.04h0M471.6 463.03h0M475.64 463.01h0M479.68 462.99h0M483.71 462.97h0M487.75 462.95h0M491.79 462.92h0M495.82 462.89h0M499.86 462.85h0M503.9 462.82h0M507.93 462.78h0M511.97 462.31h0M516.01 461.15h0M520.04 459.45h0M524.08 455.54h0M528.12 449.28h0M532.15 438.66h0M536.19 427.22h0M540.23 413.65h0M544.26 406.07h0M548.3 410.61h0M552.34 422.69h0M556.37 435.94h0M560.41 443.22h0M564.45 446.29h0M568.48 448.56h0M572.52 449.84h0M576.56 450.43h0M580.59 451.18h0M584.63 455.02h0M588.67 457.21h0M592.7 458.25h0M596.74 458.25h0M600.78 458.25h0M604.81 458.25h0M608.85 458.25h0M612.89 458.25h0M616.92 458.25h0M620.96 458.25h0M625 458.25h0M629.03 458.25h0M633.07 458.25h0M637.11 458.25h0M641.14 458.25h0M645.18 458.25h0M649.22 458.25h0M653.25 458.25h0M657.29 458.25h0M661.33 458.25h0M665.36 458.25h0M669.4 458.25h0" fill="none" stroke="#ff3200" stroke-width="5.5" stroke-linecap="round"/>
<path d="M427.2 463.1h0M431.24 463.1h0M435.27 463.1h0M439.31 463.1h0M443.35 463.09h0M447.38 463.09h0M451.42 463.08h0M455.46 463.08h0M459.49 463.07h0M463.53 463.06h0M467.57 463.05h0M471.6 463.03h0M475.64 463.02h0M479.68 463h0M483.71 462.98h0M487.75 462.96h0M491.79 462.93h0M495.82 462.9h0M499.86 462.87h0M503.9 462.84h0M507.93 462.8h0M511.97 462.76h0M516.01 462.71h0M520.04 462.67h0M524.08 462.62h0M528.12 461.87h0M532.15 460.19h0M536.19 458.25h0M540.23 455.4h0M544.26 453.01h0M548.3 453.34h0M552.34 454.41h0M556.37 455.02h0M560.41 454.77h0M564.45 454.08h0M568.48 453.08h0M572.52 451.08h0M576.56 446.94h0M580.59 433.2h0M584.63 425.93h0M588.67 421.08h0M592.7 413h0M596.74 398.46h0M600.78 366.14h0M604.81 368.24h0M608.85 389.41h0M612.89 374.87h0M616.92 396.84h0M620.96 377.45h0M625 392h0M629.03 406.54h0M633.07 430.78h0M637.11 440.8h0M641.14 449.36h0M645.18 451.79h0M649.22 453.46h0M653.25 455.02h0M657.29 457.4h0M661.33 458.9h0M665.36 458.82h0M669.4 458.25h0" fill="none" stroke="#b6ff41" stroke-width="5.5" stroke-linecap="round"/>
<path d="M427.2 463.1h0M431.24 463.1h0M435.27 463.1h0M439.31 463.1h0M443.35 463.1h0M447.38 463.1h0M451.42 463.09h0M455.46 463.09h0M459.49 463.09h0M463.53 463.09h0M467.57 463.08h0M471.6 463.08h0M475.64 463.08h0M479.68 463.07h0M483.71 463.06h0M487.75 463.06h0M491.79 463.05h0M495.82 463.04h0M499.86 463.04h0M503.9 463.03h0M507.93 463.02h0M511.97 463.01h0M516.01 462.99h0M520.04 462.98h0M524.08 462.97h0M528.12 462.95h0M532.15 462.94h0M536.19 462.92h0M540.23 462.91h0M544.26 462.89h0M548.3 462.87h0M552.34 462.85h0M556.37 462.83h0M560.41 462.81h0M564.45 462.78h0M568.48 462.76h0M572.52 462.73h0M576.56 462.7h0M580.59 462.68h0M584.63 462.65h0M588.67 462.62h0M592.7 462.31h0M596.74 461.46h0M600.78 460.12h0M604.81 458.31h0M608.85 456.06h0M612.89 453.4h0M616.92 447.35h0M620.96 438.86h0M625 430.78h0M629.03 422.7h0M633.07 427.55h0M637.11 413h0M641.14 413h0M645.18 432.4h0M649.22 413h0M653.25 420.28h0M657.29 414.62h0M661.33 414.62h0M665.36 410.58h0M669.4 414.62h0" fill="none" stroke="#00a4ff" stroke-width="5.5" stroke-linecap="round"/>
<path d="M427.2 463.1h0M431.24 463.1h0M435.27 463.1h0M439.31 463.1h0M443.35 463.1h0M447.38 463.1h0M451.42 463.1h0M455.46 463.1h0M459.49 463.1h0M463.53 463.1h0M467.57 463.1h0M471.6 463.1h0M475.64 463.1h0M479.68 463.1h0M483.71 463.1h0M487.75 463.1h0M491.79 463.1h0M495.82 463.1h0M499.86 463.1h0M503.9 463.1h0M507.93 463.1h0M511.97 463.1h0M516.01 463.1h0M520.04 463.1h0M524.08 463.1h0M528.12 463.1h0M532.15 463.1h0M536.19 463.1h0M540.23 463.1h0M544.26 463.1h0M548.3 463.1h0M552.34 463.1h0M556.37 463.1h0M560.41 463.1h0M564.45 463.1h0M568.48 463.1h0M572.52 463.1h0M576.56 463.1h0M580.59 463.1h0M584.63 463.1h0M588.67 463.1h0M592.7 463.1h0M596.74 463.1h0M600.78 463.1h0M604.81 463.1h0M608.85 463.1h0M612.89 463.1h0M616.92 463.1h0M620.96 463.1h0M625 463.1h0M629.03 462.28h0M633.07 461.16h0M637.11 460.64h0M641.14 460.23h0M645.18 459.87h0M649.22 459.54h0M653.25 459.25h0M657.29 458.95h0M661.33 458.58h0M665.36 458.07h0M669.4 457.44h0" fill="none" stroke="#000080" stroke-width="5.5" stroke-linecap="round"/>
<path d="M427.2 301.5 501.47 301.52 505.03 301.66 508.9 301.97 512.13 302.33 513.1 302.52 514.07 302.82 515.36 303.35 516.65 304.03 518.27 305.05 520.2 306.48 521.17 307.36 522.14 308.45 523.11 309.75 524.08 311.26 525.05 312.99 526.02 314.94 527.31 317.88 528.28 320.37 528.6 321.4 529.25 323.92 529.89 326.95 530.86 332.17 532.8 343.28 534.41 352.43 537.97 373.95 539.26 381.23 540.55 387.84 543.46 401.91 544.75 408.74 545.72 414.58 547.33 425.65 547.65 427.66 547.98 431.13 548.3 435.11 548.62 437.57 548.95 433.84 549.27 442.8 549.59 434.95 549.91 436.9 550.24 444.14 550.56 432.17 550.88 437.88 551.21 455.65 551.53 454.73 551.85 459.13 552.18 445.04 552.5 458.45 552.82 453.57 553.14 460.51 553.47 448.98 553.79 452.01 554.11 453.62 554.44 453.88 554.76 456.65 555.4 459.44 555.73 456.95 556.05 453.83 556.37 459.8 556.7 458.85 557.02 456.87 557.34 459.82 557.67 458.55 557.99 455.93 558.31 459.22 558.63 458.76 558.96 458.95 559.28 459.43 559.6 456.15 559.93 455.45 560.57 459.23 560.89 459.29 561.22 457.02 561.54 456.91 561.86 456.47 562.19 459.8 562.51 459.49 562.83 458.82 563.15 458.42 563.48 456.68 563.8 459.97 564.12 459.02 564.45 459.82 564.77 456.85 565.09 457.28 565.42 456.9 565.74 458.95 566.06 458.1 566.38 456.67 566.71 460.12 567.03 457.06 567.35 457.21 567.68 458.5 568 457.23 568.32 457.31 568.64 459.45 568.97 456.59 569.29 456.71 569.61 459.16 569.94 456.71 570.26 458.15 570.58 458.28 570.91 457.39 571.23 456.93 571.55 459.14 571.87 459.59 572.2 457.23 572.52 458.54 572.84 458.19 573.17 458.43 573.49 457.17 573.81 458.16 574.13 457.74 574.46 457.55 574.78 459.92 575.1 458.21 575.43 458.09 575.75 459.61 576.07 459.42 576.4 459.72 577.04 457.63 577.36 459.21 577.69 457.37 578.01 459.74 578.33 458.94 578.66 459.28 578.98 457.18 579.3 459.48 579.62 457.52 579.95 458.49 580.27 459.22 580.59 458.81 580.92 459.65 581.24 458.3 581.56 458.15 581.89 458.81 582.21 457.84 582.53 457.94 582.85 458.22 583.18 458.03 583.5 458.98 583.82 459.79 584.15 458.75 584.47 459.01 584.79 460.49 585.11 457.84 585.44 459.34 585.76 457.61 586.08 461.81 586.41 461.69 586.73 463.1 587.05 454.79 587.37 457.19 587.7 461.09 588.02 463.1 588.34 460.57 588.67 457.42 588.99 457.12 589.31 460.9 589.64 457.87 589.96 460.37 590.28 460.81 590.6 460.56 590.93 460.92 591.25 460.32 591.57 458.84 591.9 459.7 592.22 458.83 592.54 460.85 592.86 459.01 593.19 460.77 593.51 460.26 593.83 458.54 594.16 459.14 594.48 459.16 594.8 459.41 595.13 460.21 595.45 459.49 595.77 460.06 596.09 459.04 596.42 459.37 596.74 458.76 597.06 458.91 597.39 458.9 597.71 461.02 598.03 461.23 598.35 460.2 598.68 458.6 599 459.57 599.32 459.65 599.65 458.94 599.97 459.49 600.29 460.97 600.94 458.82 601.26 458.99 601.58 461.12 601.91 458.45 602.23 459.81 602.55 460.47 602.88 460.07 603.2 458.6 603.52 458.74 603.84 460.28 604.17 459.48 604.49 461.09 604.81 459.03 605.14 461.08 605.46 459.25 605.78 460.39 606.11 460.86 606.43 460.89 606.75 458.52 607.07 460.66 607.4 459.95 607.72 460.85 608.37 458.95 608.69 460.59 609.01 459.25 609.33 460.28 609.66 460.95 609.98 458.97 610.3 460.32 610.95 458.57 611.27 459.23 611.59 460.35 611.92 459.54 612.24 459.15 612.56 460.69 612.89 458.56 613.21 460.66 613.53 461.2 613.86 459.77 614.18 459.94 614.5 460.86 614.82 459.92 615.15 460.53 615.47 458.96 615.79 459.89 616.12 459.8 616.44 460.9 616.76 458.57 617.08 460.58 617.41 459.63 617.73 459.06 618.05 459.81 618.38 460.39 618.7 459.45 619.02 459.23 619.35 460.92 619.67 460.58 619.99 460.79 620.31 461.26 620.64 459.51 620.96 458.41 621.28 460.53 621.61 458.58 621.93 460.2 622.25 458.65 622.57 461.06 622.9 460.4 623.22 458.85 623.54 458.66 624.19 459.33 624.51 460.43 624.84 458.43 625.16 459.65 625.48 458.92 625.8 460.17 626.13 458.57 626.45 459.5 626.77 459.24 627.1 460.93 627.42 460.12 627.74 461.07 628.06 460.3 628.39 459.66 629.03 461.35 629.36 460.08 629.68 459.09 630 460.23 630.33 459.03 630.65 460.21 630.97 459.72 631.62 461.12 631.94 459.01 632.26 459.83 632.59 458.97 633.23 459.02 633.55 460.23 633.88 460.5 634.2 460.71 634.52 459.97 634.85 459.55 635.17 458.75 635.49 458.33 635.81 459.16 636.14 459.66 636.46 460.52 636.78 459.61 637.11 460.54 637.43 458.72 637.75 460.72 638.08 460.15 638.4 460.73 638.72 460.75 639.04 459.04 639.37 460.8 639.69 460.43 640.01 461.31 640.34 458.57 640.66 458.61 640.98 460.26 641.3 458.53 641.63 460.73 641.95 460.66 642.27 459.69 642.6 460.77 642.92 458.56 643.24 458.36 643.57 461.08 643.89 460.04 644.21 460.11 644.53 458.29 644.86 458.29 645.18 461.29 645.5 458.39 645.83 459.39 646.15 459.96 646.47 460.08 646.79 458.7 647.12 461.09 647.44 460.2 647.76 461.19 648.09 460.21 648.41 458.87 648.73 458.76 649.06 461.06 649.38 460.71 649.7 459.2 650.02 460.97 650.35 461.38 650.67 458.63 650.99 461.48 651.32 458.54 651.64 459.53 651.96 460.22 652.28 460.55 652.61 460.24 652.93 458.51 653.25 459.59 653.58 461.09 653.9 459.65 654.22 460.52 654.55 458.47 654.87 461.05 655.19 459.88 655.51 461.54 655.84 460.7 656.16 459.13 656.48 459.47 656.81 458.38 657.13 461.09 657.45 459.99 657.77 461.43 658.1 458.99 658.42 461.95 658.74 457.24 659.07 459.96 659.39 459.54 659.71 461.1 660.03 460.91 660.36 455.7 660.68 456.8 661 461.25 661.33 455.93 661.65 461.35 661.97 463.1 662.3 462.72 662.62 460.57 662.94 460.33 663.26 462.04 663.59 458.75 663.91 461.04 664.23 459.3 664.56 459.77 664.88 459.34 665.2 458.47 665.52 459.12 665.85 459.46 666.17 459.21 666.49 459.81 666.82 458.08 667.14 458.71 667.46 461.14 667.79 461.17 668.11 460.11 668.43 458.21 668.75 461.3 669.08 460.95 669.4 457.74" fill="none" stroke="#800000" stroke-width="1.9" stroke-linejoin="round" stroke-linecap="butt"/>
<path d="M427.2 463.1 517.3 463.08 520.2 462.94 523.11 462.65 526.02 462.22 529.25 461.59 530.22 461.35 530.86 461.07 531.51 460.7 532.48 459.96 533.45 459.03 534.41 457.9 535.38 456.6 536.67 454.61 537.97 452.35 539.26 449.83 539.58 449.05 540.23 447.11 540.87 444.71 541.84 440.42 542.81 435.48 544.75 424.56 546.04 416.87 547.01 410.44 547.98 403.29 548.95 395.3 549.59 389.48 549.91 385.41 550.24 384.25 550.56 375.01 550.88 375.4 551.21 376.09 551.53 359.75 551.85 363.25 552.18 369.66 552.5 365.79 552.82 352.94 553.14 356.16 553.47 366.2 553.79 366.68 554.11 357.97 554.44 368.53 554.76 365.29 555.08 350.4 555.4 351.85 555.73 368.75 556.05 357.74 556.37 358.46 556.7 349.51 557.02 356.83 557.34 361.31 557.67 345.58 557.99 361.27 558.31 349.55 558.63 358.22 558.96 349.44 559.28 360.15 559.6 342.26 559.93 354.49 560.25 346.39 560.57 344.31 560.89 350.98 561.22 348.87 561.54 358.99 561.86 348.17 562.19 348.08 562.51 338.73 562.83 351.95 563.15 356.6 563.48 350.01 563.8 340.26 564.12 359.21 564.45 358.29 564.77 334.02 565.09 344.74 565.42 340.37 566.06 352.79 566.38 340.74 566.71 351.06 567.03 345.53 567.35 351.28 567.68 333.66 568 346.22 568.32 338.5 568.64 351.04 568.97 340.22 569.29 347.86 569.61 352.1 569.94 347.06 570.26 353.23 570.58 339.74 570.91 340.87 571.23 333.42 571.55 354.02 571.87 344.64 572.2 330.46 572.52 346.64 572.84 354.21 573.17 336.05 573.49 354.28 573.81 339.19 574.13 344.52 574.46 336.27 574.78 346.18 575.1 342.68 575.43 354.26 575.75 336.39 576.07 357.22 576.4 341.79 576.72 346.67 577.04 352.82 577.36 356.61 577.69 365.23 578.01 347.26 578.33 363.4 578.66 346.85 578.98 347.27 579.3 366.77 579.62 365.48 579.95 354.68 580.27 354.09 580.59 375.41 580.92 354.25 581.24 355.44 581.56 362.18 581.89 354.86 582.21 352.87 582.53 379.46 582.85 355.22 583.18 358.8 583.5 369.95 583.82 389.94 584.15 356.89 584.47 366.83 584.79 384.22 585.11 387.92 585.44 360.5 585.76 395.52 586.08 368.7 586.41 388.48 586.73 377.09 587.05 371.74 587.37 411.37 587.7 404.43 588.02 414.23 588.34 399.56 588.67 416.05 588.99 372.19 589.31 380.8 589.64 394.3 589.96 419.09 590.28 419.19 590.6 397.36 590.93 379.54 591.25 379.26 591.57 380.72 591.9 418.41 592.22 397.08 592.54 409 592.86 407.98 593.19 401.94 593.51 425.78 593.83 428.47 594.16 421.08 594.48 432.67 594.8 397.32 595.13 427.15 595.45 447.06 595.77 414.15 596.09 395.38 596.42 421.37 596.74 437.3 597.06 404.77 597.39 420.88 597.71 422.81 598.03 432.11 598.35 418.2 599 431.54 599.32 441.87 599.65 424.07 599.97 420.61 600.29 453.39 600.62 456.08 600.94 453.74 601.26 428.42 601.58 438.05 601.91 445.71 602.23 430.59 602.55 433.22 602.88 447.23 603.2 449.13 603.52 446.4 603.84 446.03 604.17 442.41 604.49 442.65 604.81 452.81 605.14 444.21 605.46 456.53 605.78 454.79 606.11 451.97 606.43 457.14 606.75 453.59 607.07 458.17 607.4 448.07 607.72 450.12 608.04 455.72 608.37 452.66 608.69 454.55 609.01 449.63 609.33 456.1 609.66 456.94 609.98 450.94 610.3 451.38 610.63 452.16 610.95 459.36 611.27 459.69 611.59 450.15 611.92 449.81 612.24 458.11 612.56 455.09 612.89 455.41 613.21 457.34 613.53 459.54 613.86 457.69 614.18 450.15 614.5 455.69 614.82 458.22 615.15 459.63 615.47 453.56 615.79 451.49 616.12 457.78 616.44 452.43 616.76 460.26 617.08 459.12 617.41 453.7 617.73 459.51 618.05 455.57 618.38 455.37 618.7 460.25 619.02 451.79 619.35 452.69 619.67 452.14 619.99 453.63 620.31 457.59 620.64 453.2 620.96 454.52 621.28 453.97 621.61 452.61 621.93 457.56 622.25 450.9 622.57 455.73 622.9 457.3 623.22 455.05 623.54 450.3 623.87 453.18 624.19 459.69 624.51 457.77 624.84 453.53 625.16 450.51 625.48 454.99 625.8 454.98 626.13 460.75 626.45 459.13 626.77 452.16 627.1 458.2 627.42 455.06 627.74 453.5 628.06 454.44 628.39 452.62 628.71 453.93 629.03 457.52 629.36 454.57 629.68 453.4 630 460.12 630.33 450.52 630.65 454.24 630.97 450.42 631.29 451.64 631.62 460.57 631.94 460.02 632.26 451.73 632.59 458.29 632.91 451.14 633.23 450.41 633.55 452.68 633.88 454.24 634.2 456.24 634.52 451.19 634.85 454.21 635.17 459.98 635.49 453.17 635.81 457.43 636.14 459.54 636.46 457.06 636.78 451.75 637.11 453.01 637.43 456.93 637.75 452.14 638.08 455 638.72 459.96 639.04 453.69 639.37 458.4 639.69 455.6 640.01 458.5 640.34 454.25 640.66 460.48 640.98 458.09 641.3 454.32 641.63 451.95 641.95 453.19 642.27 458.01 642.92 455.69 643.24 450.82 643.57 459.25 643.89 452.55 644.21 459.96 644.53 452 644.86 460 645.18 457.02 645.5 457.17 645.83 453.89 646.15 457.77 646.47 452.36 646.79 450.38 647.12 453.33 647.44 461.05 647.76 460.23 648.09 452.38 648.41 456.77 648.73 455.62 649.06 451.92 649.38 453.38 649.7 455.47 650.35 460.46 650.67 460.11 650.99 460.79 651.32 456.9 651.64 450.75 651.96 460.16 652.28 455.61 652.61 454.48 652.93 450.8 653.25 450.19 653.58 454.03 653.9 454.89 654.22 453.44 654.55 456.53 654.87 452.6 655.19 451.95 655.51 459.06 655.84 455.48 656.16 457.94 656.48 460.11 656.81 456.72 657.13 454.6 657.45 455.6 657.77 457.15 658.1 455.16 658.42 455.76 658.74 461.3 659.07 453.6 659.39 452.45 659.71 456.26 660.03 454.05 660.36 458.84 660.68 453.12 661 456.35 661.33 454.16 661.65 453.78 662.3 459.53 662.62 450.62 662.94 451.91 663.26 457.22 663.59 457.28 663.91 451.66 664.23 452.8 664.56 458.5 664.88 451.95 665.2 457.77 665.52 451.69 665.85 460.55 666.17 450.39 666.49 457.46 666.82 450.69 667.14 458.93 667.46 457.38 667.79 458.86 668.11 454.76 668.43 458.87 668.75 453.67 669.08 453.6 669.4 452.5" fill="none" stroke="#ffb900" stroke-width="1.9" stroke-linejoin="round" stroke-linecap="butt"/>
<path d="M427.2 463.1 496.31 463.04 542.81 462.86 576.72 462.61 578.01 462.52 579.3 462.28 580.59 461.91 581.89 461.41 582.85 460.94 583.5 460.57 583.82 460.72 584.15 461.17 584.47 458.48 584.79 462.09 585.11 461.47 585.44 455.6 585.76 462.61 586.08 461.05 586.41 456.77 586.73 459.69 587.05 461.23 587.37 444.47 587.7 457.1 588.02 437.93 588.34 459.21 588.67 452.98 588.99 444.66 589.31 457.22 589.64 446.52 589.96 445.98 590.28 442.48 590.6 432.81 590.93 447.45 591.25 432.59 591.57 452.64 591.9 439.54 592.22 446.05 592.54 435.39 592.86 442.9 593.19 432.55 593.51 453.79 593.83 450.31 594.16 441.48 594.48 438.5 594.8 446.36 595.13 432.86 595.45 446.13 595.77 428.33 596.09 428.21 596.42 456.55 596.74 437.14 597.06 429.85 597.39 456.08 597.71 433.43 598.03 438.36 598.35 440.35 598.68 448.32 599 432.67 599.32 449.86 599.65 451.03 599.97 445.17 600.29 422.83 600.62 442.92 600.94 451.98 601.26 442.83 601.58 429.68 601.91 434.51 602.23 430.93 602.55 426.8 602.88 446.07 603.2 443.89 603.52 424.91 603.84 442.33 604.17 437.32 604.49 425.09 604.81 432.57 605.14 421.55 605.46 455.76 605.78 432.35 606.43 440.14 606.75 444.5 607.07 441.21 607.4 423.49 607.72 436.93 608.04 447.11 608.37 427.77 608.69 422.4 609.01 439.14 609.33 450.41 609.66 424.73 609.98 426.73 610.3 426.37 610.63 455.01 610.95 450.44 611.27 413.85 611.59 431.41 611.92 444.04 612.24 453.16 612.56 434.21 613.21 448.16 613.53 426.24 613.86 446.82 614.18 411.47 614.5 444.13 614.82 413.39 615.15 438.04 615.47 440.78 615.79 418.33 616.12 430.11 616.44 447.56 616.76 413.05 617.08 426.93 617.41 425.66 617.73 434.95 618.05 411.8 618.38 422.15 618.7 449.95 619.02 407.07 619.67 438.83 619.99 451.14 620.31 450.98 620.64 446.37 620.96 438.65 621.28 423.08 621.61 439.91 621.93 407.28 622.25 421.93 622.57 427.26 622.9 426.85 623.22 437.71 623.54 419.6 623.87 437.61 624.19 431.84 624.51 420.04 624.84 411.97 625.16 430.57 625.48 405.72 625.8 428.03 626.13 392.62 626.45 440.54 626.77 413.06 627.1 426.87 627.42 420.14 627.74 441.52 628.06 426.95 628.39 436.27 628.71 404.41 629.03 397.57 629.36 396.48 629.68 387.79 630 422.06 630.33 404.82 630.65 383.58 630.97 413.28 631.29 411.54 631.62 402.16 631.94 443.22 632.26 388.47 632.59 416.81 632.91 393.84 633.23 434.78 633.55 410.37 633.88 404.76 634.2 390.67 634.52 401.76 634.85 399.48 635.17 378.96 635.49 421.29 635.81 408.93 636.14 380.1 636.46 407.07 636.78 397.65 637.11 402.59 637.43 371.98 637.75 390.31 638.08 383.84 638.4 430.13 639.04 384.23 639.37 419.88 639.69 381.67 640.01 372.78 640.34 382.48 640.66 384.73 640.98 411.72 641.3 420.72 641.63 371.68 641.95 402.29 642.27 373.99 642.6 387.65 642.92 372.41 643.24 424.18 643.57 380.07 643.89 383.5 644.21 393.28 644.53 415.18 644.86 412.7 645.18 373.37 645.5 402.32 645.83 382.98 646.15 371.26 646.47 410.49 646.79 418.77 647.12 420.27 647.76 379.48 648.09 380.83 648.41 391.64 648.73 421.8 649.06 409.4 649.38 414.48 649.7 414.18 650.02 415.51 650.35 420.64 650.67 397.01 650.99 405.43 651.32 405.09 651.64 409.18 651.96 383.47 652.28 408.94 652.61 415.88 652.93 409.86 653.25 411.82 653.58 407.22 653.9 405.88 654.22 413.78 654.55 394.08 654.87 418.02 655.19 380.74 655.51 382.38 655.84 402.13 656.16 390.67 656.48 416.72 656.81 413.2 657.13 382.82 657.45 404.79 657.77 391.85 658.1 388.64 658.42 394.57 658.74 407.56 659.07 411.81 659.39 428.74 659.71 387.94 660.03 397.29 660.36 430.85 660.68 390.79 661 420.57 661.33 390.72 661.65 429.29 661.97 437.01 662.3 391.55 662.62 390.25 662.94 412.82 663.26 389.68 663.59 436.62 663.91 433.7 664.23 387.48 664.56 389.62 664.88 403.93 665.2 424.54 665.52 403.86 665.85 442.68 666.17 423.77 666.49 399.02 666.82 429.68 667.14 433.74 667.46 417.72 667.79 410.8 668.11 424.67 668.43 407.6 668.75 406.2 669.08 425.95 669.4 421.32" fill="none" stroke="#41ffb6" stroke-width="1.9" stroke-linejoin="round" stroke-linecap="butt"/>
<path d="M427.2 462.56 427.52 463.1 427.85 462.71 428.17 463.1 428.49 462.59 428.81 462.56 429.14 462.66 429.46 462.49 429.78 463.1 430.11 463.07 430.43 462.61 430.75 462.74 431.08 463.04 431.4 463.1 432.04 463.1 432.37 462.7 432.69 462.45 433.01 462.32 433.34 463.1 433.66 462.35 433.98 463.1 434.3 463.1 434.63 462.41 434.95 463.1 435.27 463.1 435.6 462.66 435.92 462.9 436.24 462.54 436.57 463.05 436.89 463.1 437.21 463.1 437.53 462.9 438.18 463.09 438.5 462.81 438.83 463.09 439.15 462.79 439.47 463.1 439.79 462.66 440.12 463.1 440.76 463.1 441.09 462.49 441.41 462.97 441.73 462.39 442.05 463.01 442.38 462.4 442.7 462.72 443.02 462.47 443.35 463.1 443.67 462.31 443.99 463.1 444.32 462.7 444.96 463.1 445.93 463.1 446.25 463.02 446.58 463 446.9 463.1 447.54 463.1 447.87 462.97 448.51 462.46 448.84 463.1 449.16 462.71 449.48 463.1 449.81 463.1 450.13 462.98 450.45 463.1 451.1 463.1 451.74 462.48 452.07 462.71 452.39 463.1 453.03 463.1 453.36 462.31 453.68 463.1 454 463.1 454.33 462.59 454.65 463.1 456.59 463.1 456.91 463 457.23 462.63 457.56 463.1 457.88 463.1 458.2 462.87 458.52 463.1 458.85 463.1 459.17 462.38 459.49 463.1 460.14 463.1 460.46 462.6 460.79 462.83 461.11 462.44 461.43 463.1 461.75 462.57 462.4 463.1 462.72 463.1 463.05 462.55 463.37 463.1 464.34 463.1 464.66 462.85 464.98 463.1 465.31 463.1 465.63 462.52 465.95 463.1 466.27 462.8 466.6 462.55 466.92 462.69 467.57 463.1 467.89 462.76 468.21 463.1 468.54 462.66 468.86 462.77 469.18 463.1 469.5 463.1 469.83 462.82 470.15 463.1 470.47 462.91 470.8 462.82 471.12 463.1 471.44 463.1 471.76 462.96 472.09 463.1 472.73 463.1 473.06 462.35 473.38 463.1 473.7 462.29 474.03 462.61 474.35 463.1 474.67 462.98 474.99 463.1 476.61 463.1 476.93 462.99 477.25 462.81 477.58 462.34 477.9 463.1 478.22 462.54 478.55 462.94 478.87 463.1 479.19 463.1 479.52 462.31 479.84 462.71 480.16 462.8 480.48 462.76 480.81 462.34 481.13 463.01 481.45 463.1 481.78 463.1 482.1 462.96 482.42 463.1 482.74 462.38 483.07 462.31 483.39 462.97 483.71 462.89 484.04 463.1 484.36 462.57 484.68 463.1 485.01 462.66 485.33 463.1 485.65 462.59 485.97 463.1 486.3 462.31 486.62 462.77 486.94 463.1 487.59 463.1 487.91 463.05 488.23 462.43 488.56 463.1 489.85 463.1 490.17 463.04 490.49 462.71 490.82 462.72 491.14 463.1 491.46 462.36 491.79 463.1 492.11 463.1 492.43 463.03 492.76 462.41 493.08 463.1 493.4 462.51 494.05 463 494.37 463.1 494.69 463 495.02 462.74 495.34 463.1 495.66 462.37 495.98 462.95 496.31 463.1 496.63 462.4 496.95 463.1 497.28 462.41 497.6 463.07 497.92 463.1 498.25 462.74 498.57 463.1 498.89 463.08 499.21 462.99 499.54 462.3 499.86 462.76 500.18 463.1 500.51 462.81 500.83 462.8 501.15 463.1 503.41 463.1 503.74 462.97 504.06 463.1 504.38 463.1 504.7 462.25 505.03 462.64 505.35 462.74 505.67 462.81 506 462.67 506.32 463.1 506.64 462.67 506.96 463.1 507.61 463.1 507.93 462.51 508.26 463.1 508.58 462.43 508.9 462.24 509.23 462.33 509.55 463.06 509.87 462.92 510.19 462.86 510.52 463.1 510.84 462.61 511.16 462.54 511.49 463.1 511.81 463.1 512.13 462.81 512.45 462.3 512.78 463.1 513.1 462.42 513.42 463.1 513.75 462.94 514.07 463.1 514.39 462.44 514.71 463.1 515.36 463.1 515.68 462.6 516.01 462.64 516.33 463.1 516.65 462.65 516.98 463.1 517.3 463.09 517.62 462.41 517.94 463.1 518.91 463.1 519.24 462.96 519.56 463.1 519.88 462.85 520.2 463.1 520.53 462.5 520.85 463.1 521.17 463.1 521.5 462.81 521.82 463.1 522.14 463.1 522.47 462.59 522.79 463.1 523.11 462.28 523.43 463.1 523.76 462.83 524.08 463.1 524.4 462.2 524.73 462.27 525.05 462.74 525.37 463.1 525.69 463.1 526.02 462.86 526.34 463.1 526.66 462.85 526.99 462.34 527.31 463.1 527.63 463.1 527.96 462.25 528.28 462.41 528.6 463.1 528.92 463.1 529.57 462.45 529.89 462.21 530.22 463.1 530.86 462.96 531.18 462.41 531.51 463 531.83 463.1 532.15 463.1 532.48 462.97 532.8 463.1 533.45 462.83 533.77 462.96 534.09 462.84 534.41 463.1 534.74 462.65 535.06 463.1 535.38 462.96 535.71 463.1 536.03 463.1 536.35 462.47 537 462.34 537.64 462.9 537.97 462.47 538.29 463.1 538.61 463.1 538.93 462.34 539.26 462.6 539.58 463.06 539.9 463.1 540.23 462.19 540.55 463.1 540.87 463.1 541.2 462.24 541.52 462.53 542.16 462.24 542.49 462.21 542.81 463.1 543.13 463.1 543.46 462.84 543.78 463.1 544.1 463.1 544.42 462.81 544.75 462.3 545.07 462.86 545.39 463.1 545.72 463.1 546.04 462.4 546.36 462.71 546.69 463.1 547.01 462.43 547.33 463.1 547.98 463.1 548.3 462.47 548.62 462.88 548.95 462.61 549.27 462.27 549.59 462.14 549.91 462.37 550.24 463.01 550.56 462.84 550.88 463.1 551.21 463.1 551.53 463.01 551.85 463.1 552.18 462.87 552.5 463.1 552.82 462.18 553.14 462.93 553.47 463.1 553.79 462.67 554.11 462.77 554.44 462.56 554.76 462.11 555.08 462.99 555.4 463.1 555.73 463.1 556.05 463.04 556.37 463.1 557.02 462.67 557.34 462.85 557.67 463.1 558.31 463.1 558.63 462.58 558.96 463.03 559.28 462.79 559.6 463.03 560.25 462.09 560.57 462.69 560.89 463.1 561.22 462.51 561.54 463.1 561.86 462.56 562.19 462.74 562.51 463.1 563.15 463.1 563.48 463.05 563.8 462.24 564.12 462.52 564.45 462.88 565.09 463.1 565.42 463.1 565.74 462.24 566.06 463.04 566.38 463.1 566.71 462.14 567.03 463.1 567.35 462.36 567.68 463.03 568.32 463.1 569.29 463.1 569.61 462.88 569.94 462.92 570.26 463.1 570.58 462.99 570.91 462.31 571.23 462.41 571.55 463.1 571.87 463.1 572.2 462.61 572.52 462.61 572.84 463.1 573.17 463.1 573.81 462.52 574.13 462.7 574.46 462.57 574.78 462.18 575.1 462.2 575.43 463.1 575.75 462.21 576.07 463.1 576.4 463.1 576.72 462.34 577.04 462.14 577.36 463.1 577.69 462.38 578.01 463.1 578.33 462.12 578.66 462.84 578.98 462.8 579.3 462.12 579.62 463.09 579.95 462.71 580.27 463.1 580.59 463.1 580.92 462.71 581.24 462.18 581.56 462.97 581.89 463.1 582.21 463.1 582.53 462.76 582.85 463.1 583.5 463.1 583.82 462.2 584.15 462.87 584.47 463.1 584.79 462.69 585.44 462.55 585.76 462.36 586.08 462.63 586.41 463.1 586.73 462.58 587.05 462.56 587.37 462.73 587.7 463.1 588.02 463.1 588.34 462.52 588.67 462.29 588.99 463.1 589.31 462.3 589.64 462.79 590.28 462.26 590.6 463.1 590.93 462.34 591.25 462.32 591.57 462.76 591.9 463.09 592.22 462.58 592.54 462.56 592.86 462.85 593.19 462.65 593.51 462.31 593.83 462.22 594.16 461.98 594.48 461.93 594.8 463.1 595.13 462.03 595.45 462.07 595.77 461.88 596.09 462.21 596.42 461.96 596.74 461.9 597.06 463.1 597.39 463.1 598.03 462 598.35 462.61 598.68 462.65 599 462.08 599.32 462.52 599.65 462.13 599.97 462.48 600.29 462.62 600.62 462.65 600.94 462.17 601.26 463.1 601.58 462.9 601.91 463.1 602.23 462.38 602.55 462.78 602.88 462 603.2 462.88 603.52 461.96 603.84 462.92 604.17 461.91 604.49 461.98 604.81 462.95 605.14 462.56 605.46 463.1 605.78 462.41 606.11 462.31 606.43 462.65 606.75 462.69 607.07 462.58 607.4 462.1 607.72 463.02 608.04 461.99 608.37 462.17 608.69 462.66 609.01 461.72 609.33 462.33 609.66 462.43 609.98 462.38 610.3 462.65 610.63 462.34 610.95 463.01 611.27 462.16 611.59 462.56 611.92 462.02 612.24 462.09 612.56 461.43 612.89 461.81 613.21 462.95 613.53 462.75 613.86 462.11 614.18 462 614.5 462.07 615.15 461.14 615.47 462.78 615.79 461.62 616.12 462.3 616.44 462.05 616.76 460.68 617.08 462.8 617.41 462.45 618.05 460.87 618.38 460.18 618.7 460 619.02 460.03 619.35 460.44 619.67 461.54 619.99 462.13 620.31 459.83 620.64 460.19 620.96 460.26 621.28 459.9 621.61 459.09 621.93 460.72 622.25 462.12 622.57 463.1 622.9 462.14 623.22 459.53 623.54 461.22 623.87 462.32 624.19 462.77 624.51 463.1 624.84 459.14 625.16 458.18 625.48 455.2 625.8 456.46 626.13 462.48 626.45 461.93 626.77 453.42 627.1 460.83 627.74 454.18 628.06 455.97 628.39 463.1 628.71 457.77 629.03 456.71 629.36 456.43 629.68 462.68 630 449.37 630.33 456.4 630.65 453.41 630.97 451.62 631.29 460.03 631.62 463.1 631.94 453.53 632.26 448.2 632.59 448.36 632.91 448.39 633.23 460.23 633.55 447.98 633.88 462.31 634.2 458.46 634.52 448.61 634.85 461.71 635.17 449.16 635.49 448.77 635.81 446.62 636.14 447.42 636.46 449.85 636.78 459.81 637.11 460.66 637.43 461.24 637.75 456.9 638.08 456.8 638.4 444.18 638.72 446.6 639.04 460.57 639.37 453.5 639.69 447.29 640.01 454.79 640.34 452.29 640.66 445.61 640.98 444.76 641.3 458.55 641.63 446.36 641.95 453.19 642.27 461.08 642.6 455.76 642.92 444.7 643.24 457.82 643.57 458.08 643.89 443.15 644.21 452.89 644.53 443.77 644.86 455.56 645.18 459.61 645.5 443.41 645.83 454.56 646.15 442.72 646.47 447.68 646.79 444.49 647.12 454.16 647.44 446.58 647.76 444.5 648.09 446.99 648.41 442.18 648.73 442.39 649.06 448.78 649.38 441.41 649.7 445.69 650.02 441.73 650.35 456.51 650.67 453.36 650.99 456.14 651.32 458.53 651.64 445.91 651.96 439.37 652.28 446.04 652.61 438.68 652.93 441.55 653.58 450.19 653.9 454.57 654.22 437.1 654.55 437.03 654.87 437.6 655.19 451.09 655.51 440.51 655.84 445.67 656.16 437.83 656.48 444.36 656.81 459.48 657.13 452.04 657.45 452.18 657.77 450.38 658.1 449.78 658.42 459.7 659.07 430.43 659.39 440.46 659.71 453.47 660.03 428.12 660.36 430.91 660.68 430.34 661 456.44 661.33 435.91 661.65 448.82 661.97 432.16 662.3 446.89 662.62 451.3 662.94 425.43 663.26 429.31 663.59 436.44 663.91 442.18 664.56 435.42 664.88 443.41 665.2 443.91 665.52 448.79 665.85 435.82 666.17 447.72 666.49 442.89 666.82 447.37 667.14 425.03 667.79 452.11 668.11 453.18 668.43 430.18 668.75 424.48 669.08 450.01 669.4 437.96" fill="none" stroke="#0012ff" stroke-width="1.9" stroke-linejoin="round" stroke-linecap="butt"/>
</g>
<path d="M427.2 470.7v-5.0M427.2 293.9v5.0M507.93 470.7v-5.0M507.93 293.9v5.0M588.67 470.7v-5.0M588.67 293.9v5.0M669.4 470.7v-5.0M669.4 293.9v5.0M414.9 463.1h5.0M414.9 382.3h5.0M414.9 301.5h5.0" stroke="#000" stroke-width="1.3" fill="none"/>
<rect x="414.9" y="293.9" width="266.6" height="176.8" fill="none" stroke="#000" stroke-width="1.7"/>
<text x="427.2" y="495.7" text-anchor="middle" font-size="20.4">0</text>
<text x="507.93" y="495.7" text-anchor="middle" font-size="20.4">10</text>
<text x="588.67" y="495.7" text-anchor="middle" font-size="20.4">20</text>
<text x="669.4" y="495.7" text-anchor="middle" font-size="20.4">30</text>
<text x="547.6" y="525.1" text-anchor="middle" font-size="20.7"><tspan font-style="italic">t</tspan> (ms)</text>
<text x="374.5" y="281.9" font-size="21.8">(d)</text>
<rect x="544.6" y="62.6" width="15.37" height="8.6" fill="#800000"/>
<rect x="559.67" y="62.6" width="15.37" height="8.6" fill="#ff3200"/>
<rect x="574.74" y="62.6" width="15.37" height="8.6" fill="#ffb900"/>
<rect x="589.81" y="62.6" width="15.37" height="8.6" fill="#b6ff41"/>
<rect x="604.88" y="62.6" width="15.37" height="8.6" fill="#41ffb6"/>
<rect x="619.95" y="62.6" width="15.37" height="8.6" fill="#00a4ff"/>
<rect x="635.02" y="62.6" width="15.37" height="8.6" fill="#0012ff"/>
<rect x="650.09" y="62.6" width="15.37" height="8.6" fill="#000080"/>
<rect x="544.6" y="62.6" width="120.56" height="8.6" fill="none" stroke="#000" stroke-width="1"/>
<text x="552.13" y="87.5" text-anchor="middle" font-size="14.1">0</text>
<text x="567.21" y="87.5" text-anchor="middle" font-size="14.1">1</text>
<text x="582.27" y="87.5" text-anchor="middle" font-size="14.1">2</text>
<text x="597.35" y="87.5" text-anchor="middle" font-size="14.1">3</text>
<text x="612.41" y="87.5" text-anchor="middle" font-size="14.1">4</text>
<text x="627.49" y="87.5" text-anchor="middle" font-size="14.1">5</text>
<text x="642.56" y="87.5" text-anchor="middle" font-size="14.1">6</text>
<text x="657.62" y="87.5" text-anchor="middle" font-size="14.1">7</text>
<text x="603.6" y="52.2" text-anchor="middle" font-size="18.5"><tspan font-style="italic">q</tspan><tspan dx="6.2">(2π/</tspan><tspan font-style="italic">λ</tspan>)</text>
</svg>
</body></html>
